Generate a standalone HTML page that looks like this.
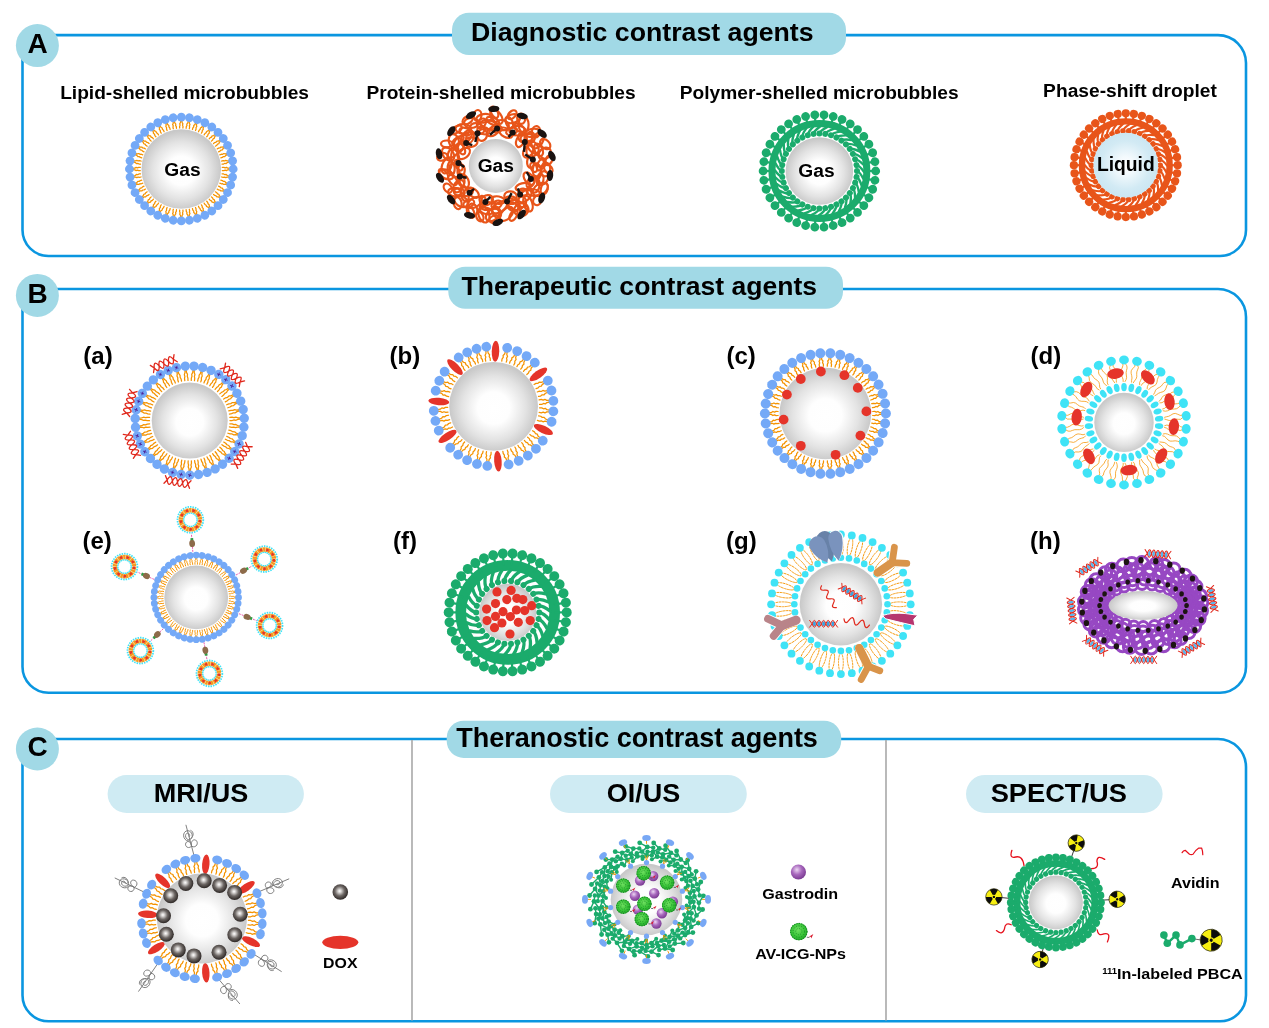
<!DOCTYPE html><html><head><meta charset="utf-8"><title>Ultrasound contrast agents</title><style>html,body{margin:0;padding:0;background:#fff}svg{display:block}</style></head><body><svg width="1269" height="1028" viewBox="0 0 1269 1028" font-family="'Liberation Sans', Arial, sans-serif" font-weight="bold" fill="#000"><defs><radialGradient id="gs" cx="50%" cy="52%" r="50%"><stop offset="0" stop-color="#fff"/><stop offset=".36" stop-color="#fefefe"/><stop offset=".72" stop-color="#e3e3e3"/><stop offset="1" stop-color="#c8c8c8"/></radialGradient>
<radialGradient id="lq" cx="50%" cy="50%" r="50%"><stop offset="0" stop-color="#fff"/><stop offset=".25" stop-color="#f4fafd"/><stop offset=".75" stop-color="#d2eaf4"/><stop offset="1" stop-color="#cbe6f2"/></radialGradient>
<radialGradient id="dk" cx="46%" cy="44%" r="56%"><stop offset="0" stop-color="#fff"/><stop offset=".18" stop-color="#d8d5d3"/><stop offset=".55" stop-color="#6d6764"/><stop offset="1" stop-color="#2c2624"/></radialGradient>
<radialGradient id="pu" cx="40%" cy="35%" r="65%"><stop offset="0" stop-color="#ecd6f3"/><stop offset=".5" stop-color="#a868bd"/><stop offset="1" stop-color="#7b3c93"/></radialGradient>
<radialGradient id="gn" cx="45%" cy="40%" r="62%"><stop offset="0" stop-color="#6fe060"/><stop offset=".65" stop-color="#36c236"/><stop offset="1" stop-color="#27a52c"/></radialGradient><g id="lp1"><path d="M48.3 -0.6L46.5 -0.8L45.2 -1.6L43.9 -1.2L42.6 -1.7L41 -1.6M48.3 0.6L46.5 0.8L45.2 1.6L43.9 1.2L42.6 1.7L41 1.6" fill="none" stroke="#f49300" stroke-width="1.25" stroke-linecap="round" stroke-linejoin="round"/><ellipse cx="51.9" cy="0" rx="4.4" ry="4.4" fill="#74a9f7"/></g><g id="po2"><ellipse cx="56.3" cy="0" rx="4.4" ry="4.4" fill="#1bab6c"/><path d="M56.3 0 L47.5 0" stroke="#1bab6c" stroke-width="2.2"/></g><g id="pi2"><circle cx="37.6" cy="0" r="3" fill="#1bab6c"/><path d="M37.6 0 Q40.7 1.2 43.9 7.7" stroke="#1bab6c" stroke-width="2.4" fill="none" stroke-linecap="round"/></g><g id="po3"><ellipse cx="51.9" cy="0" rx="4.1" ry="4.1" fill="#e8551a"/><path d="M51.9 0 L43.9 0" stroke="#e8551a" stroke-width="2.2"/></g><g id="pi3"><circle cx="34.4" cy="0" r="2.8" fill="#e8551a"/><path d="M34.4 0 Q37.5 1.1 40.6 7.2" stroke="#e8551a" stroke-width="2.2" fill="none" stroke-linecap="round"/></g><g id="lp4"><path d="M50.7 -0.6L48.1 -0.8L46.3 -1.6L44.4 -1.2L42.5 -1.7L40.2 -1.6M50.7 0.6L48.1 0.8L46.3 1.6L44.4 1.2L42.5 1.7L40.2 1.6" fill="none" stroke="#f49300" stroke-width="1.25" stroke-linecap="round" stroke-linejoin="round"/><ellipse cx="54.6" cy="0" rx="4.7" ry="4.7" fill="#74a9f7"/></g><g id="lp5"><path d="M55.9 -0.9L53.4 -1.1L51.7 -2.3L49.9 -1.7L48.1 -2.5L45.9 -2.3M55.9 0.9L53.4 1.1L51.7 2.3L49.9 1.7L48.1 2.5L45.9 2.3" fill="none" stroke="#f49300" stroke-width="1.25" stroke-linecap="round" stroke-linejoin="round"/><ellipse cx="60" cy="0" rx="4.9" ry="4.9" fill="#74a9f7"/></g><g id="lp6"><path d="M56.3 -0.8L54 -0.9L52.5 -2L50.9 -1.4L49.3 -2.1L47.3 -2M56.3 0.8L54 0.9L52.5 2L50.9 1.4L49.3 2.1L47.3 2" fill="none" stroke="#f49300" stroke-width="1.25" stroke-linecap="round" stroke-linejoin="round"/><ellipse cx="60.5" cy="0" rx="5" ry="5" fill="#74a9f7"/></g><g id="lp7"><path d="M39.7 -0.5L38.1 -0.6L36.9 -1.2L35.7 -0.9L34.6 -1.3L33.1 -1.2M39.7 0.5L38.1 0.6L36.9 1.2L35.7 0.9L34.6 1.3L33.1 1.2" fill="none" stroke="#f49300" stroke-width="0.9" stroke-linecap="round" stroke-linejoin="round"/><ellipse cx="42.3" cy="0" rx="3.4" ry="3.4" fill="#74a9f7"/></g><g id="po8"><ellipse cx="59" cy="0" rx="5" ry="5" fill="#1bab6c"/><path d="M59 0 L47 0" stroke="#1bab6c" stroke-width="2.2"/></g><g id="pi8"><circle cx="31.5" cy="0" r="3" fill="#1bab6c"/><path d="M31.5 0 Q36.5 1.1 41.6 7.3" stroke="#1bab6c" stroke-width="3.3" fill="none" stroke-linecap="round"/></g><g id="lp9"><path d="M57.1 -0.9L54.5 -1.1L52.6 -2.3L50.7 -1.7L48.8 -2.4L46.5 -2.3M57.1 0.9L54.5 1.1L52.6 2.3L50.7 1.7L48.8 2.4L46.5 2.3" fill="none" stroke="#f49300" stroke-width="1.25" stroke-linecap="round" stroke-linejoin="round"/><ellipse cx="60.6" cy="0" rx="4.3" ry="5.1" fill="#74a9f7"/></g><g id="po10"><ellipse cx="45.1" cy="0" rx="3.9" ry="3.9" fill="#1bab6c"/><path d="M45.1 0 L39 0" stroke="#1bab6c" stroke-width="2.2"/></g><g id="pi10"><circle cx="30.2" cy="0" r="2.6" fill="#1bab6c"/><path d="M30.2 0 Q32.8 1.1 35.3 7.5" stroke="#1bab6c" stroke-width="1.7" fill="none" stroke-linecap="round"/></g></defs><path d="M22.5 45.1 L22.5 230 A26 26 0 0 0 48.5 256 L1220 256 A26 26 0 0 0 1246 230 L1246 63.1 A28 28 0 0 0 1218 35.1 L32.5 35.1" fill="none" stroke="#0a96e0" stroke-width="2.6"/><path d="M22.5 299 L22.5 666.8 A26 26 0 0 0 48.5 692.8 L1220 692.8 A26 26 0 0 0 1246 666.8 L1246 317 A28 28 0 0 0 1218 289 L32.5 289" fill="none" stroke="#0a96e0" stroke-width="2.6"/><path d="M22.5 749 L22.5 995.3 A26 26 0 0 0 48.5 1021.3 L1220 1021.3 A26 26 0 0 0 1246 995.3 L1246 767 A28 28 0 0 0 1218 739 L32.5 739" fill="none" stroke="#0a96e0" stroke-width="2.6"/><path d="M412 740V1020.5M886 740V1020.5" stroke="#a9a9a9" stroke-width="1.6"/><circle cx="37.4" cy="45.6" r="21.5" fill="#a1d9e6"/><text x="37.5" y="52.9" font-size="28" text-anchor="middle" >A</text><circle cx="37.4" cy="295.4" r="21.5" fill="#a1d9e6"/><text x="37.5" y="302.7" font-size="28" text-anchor="middle" >B</text><circle cx="37.4" cy="749" r="21.5" fill="#a1d9e6"/><text x="37.5" y="756.3" font-size="28" text-anchor="middle" >C</text><rect x="452" y="12.7" width="394" height="42.4" rx="17" fill="#a1d9e6"/><text x="642.3" y="41.3" font-size="26.7" text-anchor="middle" >Diagnostic contrast agents</text><rect x="448.3" y="266.7" width="394.7" height="42" rx="17" fill="#a1d9e6"/><text x="639.3" y="295.2" font-size="26.55" text-anchor="middle" >Therapeutic contrast agents</text><rect x="446.7" y="720.8" width="394.5" height="37.1" rx="17" fill="#a1d9e6"/><text x="637.1" y="746.7" font-size="27" text-anchor="middle" >Theranostic contrast agents</text><rect x="107.6" y="775" width="196.3" height="38" rx="19" fill="#cfebf3"/><text transform="translate(201 801.6) scale(1.045 1)" font-size="25.9" text-anchor="middle">MRI/US</text><rect x="550" y="774.9" width="196.8" height="38.1" rx="19" fill="#cfebf3"/><text transform="translate(643.4 802.3) scale(1.015 1)" font-size="26.6" text-anchor="middle">OI/US</text><rect x="966" y="774.9" width="196.6" height="38.1" rx="19" fill="#cfebf3"/><text transform="translate(1058.8 802.3) scale(1.025 1)" font-size="26.6" text-anchor="middle">SPECT/US</text><text x="184.6" y="99.2" font-size="19.15" text-anchor="middle" >Lipid-shelled microbubbles</text><text x="501" y="99.1" font-size="19.15" text-anchor="middle" >Protein-shelled microbubbles</text><text x="819.2" y="99" font-size="19.15" text-anchor="middle" >Polymer-shelled microbubbles</text><text x="1130" y="97.2" font-size="19.2" text-anchor="middle" >Phase-shift droplet</text><g transform="translate(181.3 169)"><use href="#lp1" transform="rotate(0)"/><use href="#lp1" transform="rotate(9)"/><use href="#lp1" transform="rotate(18)"/><use href="#lp1" transform="rotate(27)"/><use href="#lp1" transform="rotate(36)"/><use href="#lp1" transform="rotate(45)"/><use href="#lp1" transform="rotate(54)"/><use href="#lp1" transform="rotate(63)"/><use href="#lp1" transform="rotate(72)"/><use href="#lp1" transform="rotate(81)"/><use href="#lp1" transform="rotate(90)"/><use href="#lp1" transform="rotate(99)"/><use href="#lp1" transform="rotate(108)"/><use href="#lp1" transform="rotate(117)"/><use href="#lp1" transform="rotate(126)"/><use href="#lp1" transform="rotate(135)"/><use href="#lp1" transform="rotate(144)"/><use href="#lp1" transform="rotate(153)"/><use href="#lp1" transform="rotate(162)"/><use href="#lp1" transform="rotate(171)"/><use href="#lp1" transform="rotate(180)"/><use href="#lp1" transform="rotate(189)"/><use href="#lp1" transform="rotate(198)"/><use href="#lp1" transform="rotate(207)"/><use href="#lp1" transform="rotate(216)"/><use href="#lp1" transform="rotate(225)"/><use href="#lp1" transform="rotate(234)"/><use href="#lp1" transform="rotate(243)"/><use href="#lp1" transform="rotate(252)"/><use href="#lp1" transform="rotate(261)"/><use href="#lp1" transform="rotate(270)"/><use href="#lp1" transform="rotate(279)"/><use href="#lp1" transform="rotate(288)"/><use href="#lp1" transform="rotate(297)"/><use href="#lp1" transform="rotate(306)"/><use href="#lp1" transform="rotate(315)"/><use href="#lp1" transform="rotate(324)"/><use href="#lp1" transform="rotate(333)"/><use href="#lp1" transform="rotate(342)"/><use href="#lp1" transform="rotate(351)"/></g><circle cx="181.3" cy="169" r="39.8" fill="url(#gs)"/><text x="182.5" y="175.5" font-size="19.2" text-anchor="middle" >Gas</text><g transform="translate(495.8 165.9)"><g fill="none" stroke="#e8551a" stroke-width="2.2"><ellipse cx="2.4" cy="34.2" rx="6.7" ry="3.7" transform="rotate(190.6 2.4 34.2)"/><ellipse cx="-8.7" cy="34.1" rx="6" ry="4.8" transform="rotate(160.6 -8.7 34.1)"/><ellipse cx="-22.8" cy="26.8" rx="6.8" ry="3.8" transform="rotate(217.1 -22.8 26.8)"/><ellipse cx="-31.7" cy="15.3" rx="7" ry="4.4" transform="rotate(247.5 -31.7 15.3)"/><ellipse cx="-34.7" cy="4.8" rx="6.1" ry="3.6" transform="rotate(274.9 -34.7 4.8)"/><ellipse cx="-32.1" cy="-12.4" rx="7.2" ry="4.5" transform="rotate(321.7 -32.1 -12.4)"/><ellipse cx="-24.7" cy="-23.8" rx="6.4" ry="4.7" transform="rotate(356.2 -24.7 -23.8)"/><ellipse cx="-13.6" cy="-30.8" rx="5.9" ry="4.8" transform="rotate(285.2 -13.6 -30.8)"/><ellipse cx="-2.9" cy="-34.6" rx="6.5" ry="4.1" transform="rotate(327.3 -2.9 -34.6)"/><ellipse cx="10.1" cy="-33.2" rx="7.3" ry="4.4" transform="rotate(388.8 10.1 -33.2)"/><ellipse cx="24.5" cy="-25.3" rx="6.8" ry="3.8" transform="rotate(472.8 24.5 -25.3)"/><ellipse cx="32.4" cy="-14.4" rx="6.6" ry="4.5" transform="rotate(482.7 32.4 -14.4)"/><ellipse cx="34.9" cy="-4.1" rx="6.1" ry="3.6" transform="rotate(453.7 34.9 -4.1)"/><ellipse cx="33.1" cy="12.7" rx="7.1" ry="4.1" transform="rotate(413.4 33.1 12.7)"/><ellipse cx="26.9" cy="20.9" rx="7.2" ry="3.6" transform="rotate(525.5 26.9 20.9)"/><ellipse cx="14.7" cy="30.2" rx="6.2" ry="4.7" transform="rotate(544.7 14.7 30.2)"/><ellipse cx="42.7" cy="-5.2" rx="6.5" ry="4.7" transform="rotate(416.4 42.7 -5.2)"/><ellipse cx="41.1" cy="5.2" rx="7.7" ry="4.1" transform="rotate(444.4 41.1 5.2)"/><ellipse cx="38.6" cy="18.3" rx="8.5" ry="5.1" transform="rotate(449.3 38.6 18.3)"/><ellipse cx="29.1" cy="30.2" rx="7.8" ry="4.7" transform="rotate(498.9 29.1 30.2)"/><ellipse cx="17.5" cy="38.4" rx="7.5" ry="4.5" transform="rotate(577.2 17.5 38.4)"/><ellipse cx="3.8" cy="41.3" rx="8.6" ry="4.6" transform="rotate(506.9 3.8 41.3)"/><ellipse cx="-8.1" cy="40.2" rx="7.7" ry="3.9" transform="rotate(539.5 -8.1 40.2)"/><ellipse cx="-21.1" cy="36.6" rx="7.8" ry="4.6" transform="rotate(508.4 -21.1 36.6)"/><ellipse cx="-31.2" cy="27.7" rx="8" ry="3.9" transform="rotate(617.4 -31.2 27.7)"/><ellipse cx="-37.2" cy="20.2" rx="6.9" ry="4.5" transform="rotate(666.4 -37.2 20.2)"/><ellipse cx="-41.4" cy="4.5" rx="7.1" ry="4.4" transform="rotate(604.7 -41.4 4.5)"/><ellipse cx="-40.7" cy="-8.5" rx="8.1" ry="3.9" transform="rotate(624.6 -40.7 -8.5)"/><ellipse cx="-36.9" cy="-21" rx="6.9" ry="5" transform="rotate(633 -36.9 -21)"/><ellipse cx="-29.3" cy="-29.2" rx="7.9" ry="4.1" transform="rotate(665.9 -29.3 -29.2)"/><ellipse cx="-18.5" cy="-37.3" rx="7.4" ry="5.1" transform="rotate(740.3 -18.5 -37.3)"/><ellipse cx="-7" cy="-41.1" rx="8.4" ry="4.5" transform="rotate(731.4 -7 -41.1)"/><ellipse cx="6.3" cy="-40.8" rx="6.8" ry="5" transform="rotate(733 6.3 -40.8)"/><ellipse cx="21.8" cy="-35.2" rx="8.2" ry="4.8" transform="rotate(720.7 21.8 -35.2)"/><ellipse cx="31.7" cy="-27.1" rx="7" ry="5" transform="rotate(717.6 31.7 -27.1)"/><ellipse cx="37.2" cy="-18.8" rx="7.3" ry="4.5" transform="rotate(771.6 37.2 -18.8)"/><ellipse cx="41.4" cy="-25.2" rx="8.4" ry="5.5" transform="rotate(480.7 41.4 -25.2)"/><ellipse cx="48.9" cy="-12.3" rx="6.9" ry="5.2" transform="rotate(495.7 48.9 -12.3)"/><ellipse cx="49.7" cy="3.6" rx="7" ry="4.6" transform="rotate(456.8 49.7 3.6)"/><ellipse cx="47.1" cy="12" rx="7" ry="5.2" transform="rotate(476.7 47.1 12)"/><ellipse cx="44.5" cy="23.4" rx="8.5" ry="5.4" transform="rotate(504.9 44.5 23.4)"/><ellipse cx="32.2" cy="37.8" rx="8.1" ry="4.3" transform="rotate(431.5 32.2 37.8)"/><ellipse cx="25" cy="43.1" rx="7.3" ry="5.4" transform="rotate(513.3 25 43.1)"/><ellipse cx="10.8" cy="48" rx="8.3" ry="4.8" transform="rotate(492.7 10.8 48)"/><ellipse cx="-3.2" cy="49.1" rx="7.6" ry="5.3" transform="rotate(501.3 -3.2 49.1)"/><ellipse cx="-11.9" cy="48.6" rx="8.2" ry="5.3" transform="rotate(612.8 -11.9 48.6)"/><ellipse cx="-23" cy="44.1" rx="6.5" ry="4.5" transform="rotate(618.2 -23 44.1)"/><ellipse cx="-34.8" cy="35.3" rx="7.4" ry="5.2" transform="rotate(573.8 -34.8 35.3)"/><ellipse cx="-41" cy="26.2" rx="6.7" ry="4.2" transform="rotate(545.2 -41 26.2)"/><ellipse cx="-49.5" cy="8.5" rx="7.5" ry="4.5" transform="rotate(562.3 -49.5 8.5)"/><ellipse cx="-49.2" cy="0.1" rx="7.7" ry="4.6" transform="rotate(650.5 -49.2 0.1)"/><ellipse cx="-47.7" cy="-11.8" rx="7.6" ry="5.1" transform="rotate(591.3 -47.7 -11.8)"/><ellipse cx="-41.9" cy="-24.7" rx="7.2" ry="5" transform="rotate(615.5 -41.9 -24.7)"/><ellipse cx="-32.5" cy="-37" rx="7.8" ry="4.7" transform="rotate(720.8 -32.5 -37)"/><ellipse cx="-24.4" cy="-43" rx="7.3" ry="5.1" transform="rotate(718.8 -24.4 -43)"/><ellipse cx="-11.8" cy="-47.6" rx="7.9" ry="4.2" transform="rotate(711.1 -11.8 -47.6)"/><ellipse cx="0.7" cy="-49.3" rx="8.5" ry="4.6" transform="rotate(774 0.7 -49.3)"/><ellipse cx="16.8" cy="-47.2" rx="7.4" ry="4.3" transform="rotate(706.3 16.8 -47.2)"/><ellipse cx="27.8" cy="-41.3" rx="8.2" ry="5" transform="rotate(808.2 27.8 -41.3)"/><ellipse cx="37" cy="-33" rx="7.7" ry="4.1" transform="rotate(712.7 37 -33)"/><ellipse cx="26.3" cy="36" rx="5.3" ry="4" transform="rotate(86.7 26.3 36)"/><ellipse cx="17.3" cy="41" rx="5.3" ry="4" transform="rotate(204.9 17.3 41)"/><ellipse cx="0.8" cy="46.2" rx="6.1" ry="3.9" transform="rotate(242.4 0.8 46.2)"/><ellipse cx="-9.5" cy="45" rx="6.4" ry="3.2" transform="rotate(193.5 -9.5 45)"/><ellipse cx="-27" cy="37.7" rx="5.7" ry="3.7" transform="rotate(154.2 -27 37.7)"/><ellipse cx="-36.5" cy="26.3" rx="5.5" ry="3.7" transform="rotate(189.5 -36.5 26.3)"/><ellipse cx="-43" cy="14.2" rx="5.8" ry="3.4" transform="rotate(233.1 -43 14.2)"/><ellipse cx="-44.6" cy="2.3" rx="6.9" ry="3.5" transform="rotate(267.1 -44.6 2.3)"/><ellipse cx="-42.7" cy="-13.6" rx="6.5" ry="3.8" transform="rotate(314.4 -42.7 -13.6)"/><ellipse cx="-37.8" cy="-25.3" rx="6.7" ry="3.2" transform="rotate(323.8 -37.8 -25.3)"/><ellipse cx="-30.5" cy="-34.4" rx="6" ry="3.5" transform="rotate(376.8 -30.5 -34.4)"/><ellipse cx="-14.3" cy="-42.5" rx="5.5" ry="3.7" transform="rotate(308.8 -14.3 -42.5)"/><ellipse cx="-3" cy="-44.9" rx="6.8" ry="3.4" transform="rotate(382.9 -3 -44.9)"/><ellipse cx="13.5" cy="-43.3" rx="6.2" ry="3.3" transform="rotate(426.8 13.5 -43.3)"/><ellipse cx="23.2" cy="-38" rx="5.8" ry="3.2" transform="rotate(388.5 23.2 -38)"/><ellipse cx="34.9" cy="-28.7" rx="5.4" ry="4.1" transform="rotate(448.9 34.9 -28.7)"/><ellipse cx="42.8" cy="-16" rx="6.6" ry="3.9" transform="rotate(425 42.8 -16)"/><ellipse cx="45.4" cy="-1.5" rx="6.6" ry="3.5" transform="rotate(479 45.4 -1.5)"/><ellipse cx="44.3" cy="14" rx="5.5" ry="3.3" transform="rotate(463 44.3 14)"/><ellipse cx="37.4" cy="26.6" rx="6.6" ry="3.3" transform="rotate(549.6 37.4 26.6)"/><ellipse cx="15" cy="34.2" rx="6.1" ry="3.8" transform="rotate(185 15 34.2)"/><ellipse cx="0.8" cy="38.7" rx="5.4" ry="3.6" transform="rotate(152.7 0.8 38.7)"/><ellipse cx="-12.7" cy="35" rx="5.2" ry="3.3" transform="rotate(246.7 -12.7 35)"/><ellipse cx="-27.8" cy="26.4" rx="5.2" ry="3.3" transform="rotate(157.4 -27.8 26.4)"/><ellipse cx="-34.7" cy="13.9" rx="6.3" ry="3.3" transform="rotate(260.1 -34.7 13.9)"/><ellipse cx="-37.2" cy="-0.7" rx="5.8" ry="3" transform="rotate(239.6 -37.2 -0.7)"/><ellipse cx="-34.8" cy="-17.2" rx="6.2" ry="3.3" transform="rotate(239.9 -34.8 -17.2)"/><ellipse cx="-25.8" cy="-28.6" rx="5.8" ry="3.6" transform="rotate(289.3 -25.8 -28.6)"/><ellipse cx="-12.4" cy="-35.4" rx="6.3" ry="3.6" transform="rotate(376.3 -12.4 -35.4)"/><ellipse cx="0.7" cy="-37.2" rx="5.3" ry="3.6" transform="rotate(360.2 0.7 -37.2)"/><ellipse cx="15.9" cy="-34.6" rx="5.7" ry="3.5" transform="rotate(340.2 15.9 -34.6)"/><ellipse cx="26.5" cy="-28.3" rx="4.9" ry="3.8" transform="rotate(424.9 26.5 -28.3)"/><ellipse cx="34.2" cy="-15.7" rx="5.7" ry="3.5" transform="rotate(456.3 34.2 -15.7)"/><ellipse cx="37.9" cy="1.3" rx="5" ry="3" transform="rotate(425.7 37.9 1.3)"/><ellipse cx="34.9" cy="16.3" rx="5.9" ry="3.3" transform="rotate(481 34.9 16.3)"/><ellipse cx="27.2" cy="26.2" rx="4.7" ry="3.4" transform="rotate(546 27.2 26.2)"/><ellipse cx="-1.1" cy="53.2" rx="5.3" ry="3.6" transform="rotate(157.7 -1.1 53.2)"/><ellipse cx="-16" cy="50.7" rx="4.9" ry="3.4" transform="rotate(246.1 -16 50.7)"/><ellipse cx="-25.2" cy="46.3" rx="5.9" ry="3.3" transform="rotate(247.6 -25.2 46.3)"/><ellipse cx="-38.1" cy="37.3" rx="6" ry="3.9" transform="rotate(259.7 -38.1 37.3)"/><ellipse cx="-47.9" cy="22.2" rx="5" ry="3.6" transform="rotate(231 -47.9 22.2)"/><ellipse cx="-52.3" cy="8" rx="6" ry="3.1" transform="rotate(226.4 -52.3 8)"/><ellipse cx="-53.5" cy="-9.1" rx="5.3" ry="3.7" transform="rotate(342.5 -53.5 -9.1)"/><ellipse cx="-49" cy="-22" rx="5.8" ry="3.4" transform="rotate(361 -49 -22)"/><ellipse cx="-39.2" cy="-36.3" rx="5.9" ry="3.1" transform="rotate(327 -39.2 -36.3)"/><ellipse cx="-28.2" cy="-45.9" rx="5.5" ry="3.6" transform="rotate(327.3 -28.2 -45.9)"/><ellipse cx="-18.2" cy="-50.4" rx="5.5" ry="3.8" transform="rotate(275.4 -18.2 -50.4)"/><ellipse cx="-1.4" cy="-53.6" rx="6.1" ry="3.2" transform="rotate(422.8 -1.4 -53.6)"/><ellipse cx="16.3" cy="-51.2" rx="5.3" ry="3.3" transform="rotate(314.8 16.3 -51.2)"/><ellipse cx="25.4" cy="-47.2" rx="5.2" ry="4" transform="rotate(448.5 25.4 -47.2)"/><ellipse cx="40.2" cy="-34.2" rx="5.7" ry="4.1" transform="rotate(459.8 40.2 -34.2)"/><ellipse cx="49.4" cy="-21.8" rx="6" ry="4.1" transform="rotate(404.3 49.4 -21.8)"/><ellipse cx="53.1" cy="-5.9" rx="5.5" ry="3.2" transform="rotate(479.7 53.1 -5.9)"/><ellipse cx="52.6" cy="3.2" rx="4.9" ry="3.6" transform="rotate(411.6 52.6 3.2)"/><ellipse cx="48.5" cy="22.8" rx="5.7" ry="3.4" transform="rotate(464.2 48.5 22.8)"/><ellipse cx="41.6" cy="34.4" rx="5" ry="4" transform="rotate(475.8 41.6 34.4)"/><ellipse cx="28.2" cy="45.2" rx="5.5" ry="3.7" transform="rotate(490 28.2 45.2)"/><ellipse cx="17.6" cy="49.5" rx="6" ry="3.2" transform="rotate(479.7 17.6 49.5)"/></g><ellipse cx="-2" cy="-57" rx="5.6" ry="3.2" fill="#1a1311" transform="rotate(-4 -2 -57)"/><ellipse cx="26.5" cy="-49.9" rx="5.6" ry="3.2" fill="#1a1311" transform="rotate(12.8 26.5 -49.9)"/><ellipse cx="46.3" cy="-32.4" rx="5.6" ry="3.2" fill="#1a1311" transform="rotate(40.5 46.3 -32.4)"/><ellipse cx="56.1" cy="-9.9" rx="5.6" ry="3.2" fill="#1a1311" transform="rotate(63.5 56.1 -9.9)"/><ellipse cx="54.2" cy="9.6" rx="5.6" ry="3.2" fill="#1a1311" transform="rotate(95.2 54.2 9.6)"/><ellipse cx="45.9" cy="32.1" rx="5.6" ry="3.2" fill="#1a1311" transform="rotate(108.4 45.9 32.1)"/><ellipse cx="25.8" cy="48.6" rx="5.6" ry="3.2" fill="#1a1311" transform="rotate(128.4 25.8 48.6)"/><ellipse cx="2" cy="56.5" rx="5.6" ry="3.2" fill="#1a1311" transform="rotate(158.5 2 56.5)"/><ellipse cx="-26.3" cy="49.4" rx="5.6" ry="3.2" fill="#1a1311" transform="rotate(191.4 -26.3 49.4)"/><ellipse cx="-44.7" cy="33.7" rx="5.6" ry="3.2" fill="#1a1311" transform="rotate(232.5 -44.7 33.7)"/><ellipse cx="-55.8" cy="11.9" rx="5.6" ry="3.2" fill="#1a1311" transform="rotate(236 -55.8 11.9)"/><ellipse cx="-56.7" cy="-12.1" rx="5.6" ry="3.2" fill="#1a1311" transform="rotate(258.1 -56.7 -12.1)"/><ellipse cx="-44.5" cy="-34.8" rx="5.6" ry="3.2" fill="#1a1311" transform="rotate(305.4 -44.5 -34.8)"/><ellipse cx="-24.8" cy="-50.8" rx="5.6" ry="3.2" fill="#1a1311" transform="rotate(329.4 -24.8 -50.8)"/><circle cx="1.3" cy="-37.5" r="3" fill="#1a1311"/><path d="M1.3 -37.5L-5.8 -31" stroke="#1a1311" stroke-width="2.4"/><circle cx="16.9" cy="-33.5" r="3" fill="#1a1311"/><path d="M16.9 -33.5L12.7 -28.8" stroke="#1a1311" stroke-width="2.4"/><circle cx="29" cy="-23.8" r="3" fill="#1a1311"/><path d="M29 -23.8L28.2 -14" stroke="#1a1311" stroke-width="2.4"/><circle cx="37" cy="-6.3" r="3" fill="#1a1311"/><path d="M37 -6.3L29.4 -11.3" stroke="#1a1311" stroke-width="2.4"/><circle cx="35.1" cy="13.1" r="3" fill="#1a1311"/><path d="M35.1 13.1L30.9 6.1" stroke="#1a1311" stroke-width="2.4"/><circle cx="24.3" cy="28.6" r="3" fill="#1a1311"/><path d="M24.3 28.6L22.1 22.4" stroke="#1a1311" stroke-width="2.4"/><circle cx="11.3" cy="35.7" r="3" fill="#1a1311"/><path d="M11.3 35.7L15.8 27.2" stroke="#1a1311" stroke-width="2.4"/><circle cx="-10.4" cy="36" r="3" fill="#1a1311"/><path d="M-10.4 36L-5.4 31" stroke="#1a1311" stroke-width="2.4"/><circle cx="-26.2" cy="26.8" r="3" fill="#1a1311"/><path d="M-26.2 26.8L-21.7 22.9" stroke="#1a1311" stroke-width="2.4"/><circle cx="-36" cy="10.6" r="3" fill="#1a1311"/><path d="M-36 10.6L-29.2 11.8" stroke="#1a1311" stroke-width="2.4"/><circle cx="-37.4" cy="-2.9" r="3" fill="#1a1311"/><path d="M-37.4 -2.9L-31.5 1.2" stroke="#1a1311" stroke-width="2.4"/><circle cx="-29.6" cy="-23" r="3" fill="#1a1311"/><path d="M-29.6 -23L-23.6 -20.8" stroke="#1a1311" stroke-width="2.4"/><circle cx="-18.3" cy="-32.7" r="3" fill="#1a1311"/><path d="M-18.3 -32.7L-20.5 -23.9" stroke="#1a1311" stroke-width="2.4"/></g><circle cx="495.8" cy="165.9" r="27" fill="url(#gs)"/><text x="495.8" y="172.2" font-size="19.2" text-anchor="middle" >Gas</text><g transform="translate(819.4 171)"><circle r="47.5" fill="none" stroke="#1bab6c" stroke-width="6.9"/><use href="#po2" transform="rotate(0)"/><use href="#po2" transform="rotate(9.5)"/><use href="#po2" transform="rotate(18.9)"/><use href="#po2" transform="rotate(28.4)"/><use href="#po2" transform="rotate(37.9)"/><use href="#po2" transform="rotate(47.4)"/><use href="#po2" transform="rotate(56.8)"/><use href="#po2" transform="rotate(66.3)"/><use href="#po2" transform="rotate(75.8)"/><use href="#po2" transform="rotate(85.3)"/><use href="#po2" transform="rotate(94.7)"/><use href="#po2" transform="rotate(104.2)"/><use href="#po2" transform="rotate(113.7)"/><use href="#po2" transform="rotate(123.2)"/><use href="#po2" transform="rotate(132.6)"/><use href="#po2" transform="rotate(142.1)"/><use href="#po2" transform="rotate(151.6)"/><use href="#po2" transform="rotate(161.1)"/><use href="#po2" transform="rotate(170.5)"/><use href="#po2" transform="rotate(180)"/><use href="#po2" transform="rotate(189.5)"/><use href="#po2" transform="rotate(198.9)"/><use href="#po2" transform="rotate(208.4)"/><use href="#po2" transform="rotate(217.9)"/><use href="#po2" transform="rotate(227.4)"/><use href="#po2" transform="rotate(236.8)"/><use href="#po2" transform="rotate(246.3)"/><use href="#po2" transform="rotate(255.8)"/><use href="#po2" transform="rotate(265.3)"/><use href="#po2" transform="rotate(274.7)"/><use href="#po2" transform="rotate(284.2)"/><use href="#po2" transform="rotate(293.7)"/><use href="#po2" transform="rotate(303.2)"/><use href="#po2" transform="rotate(312.6)"/><use href="#po2" transform="rotate(322.1)"/><use href="#po2" transform="rotate(331.6)"/><use href="#po2" transform="rotate(341.1)"/><use href="#po2" transform="rotate(350.5)"/><use href="#pi2" transform="rotate(0)"/><use href="#pi2" transform="rotate(9)"/><use href="#pi2" transform="rotate(18)"/><use href="#pi2" transform="rotate(27)"/><use href="#pi2" transform="rotate(36)"/><use href="#pi2" transform="rotate(45)"/><use href="#pi2" transform="rotate(54)"/><use href="#pi2" transform="rotate(63)"/><use href="#pi2" transform="rotate(72)"/><use href="#pi2" transform="rotate(81)"/><use href="#pi2" transform="rotate(90)"/><use href="#pi2" transform="rotate(99)"/><use href="#pi2" transform="rotate(108)"/><use href="#pi2" transform="rotate(117)"/><use href="#pi2" transform="rotate(126)"/><use href="#pi2" transform="rotate(135)"/><use href="#pi2" transform="rotate(144)"/><use href="#pi2" transform="rotate(153)"/><use href="#pi2" transform="rotate(162)"/><use href="#pi2" transform="rotate(171)"/><use href="#pi2" transform="rotate(180)"/><use href="#pi2" transform="rotate(189)"/><use href="#pi2" transform="rotate(198)"/><use href="#pi2" transform="rotate(207)"/><use href="#pi2" transform="rotate(216)"/><use href="#pi2" transform="rotate(225)"/><use href="#pi2" transform="rotate(234)"/><use href="#pi2" transform="rotate(243)"/><use href="#pi2" transform="rotate(252)"/><use href="#pi2" transform="rotate(261)"/><use href="#pi2" transform="rotate(270)"/><use href="#pi2" transform="rotate(279)"/><use href="#pi2" transform="rotate(288)"/><use href="#pi2" transform="rotate(297)"/><use href="#pi2" transform="rotate(306)"/><use href="#pi2" transform="rotate(315)"/><use href="#pi2" transform="rotate(324)"/><use href="#pi2" transform="rotate(333)"/><use href="#pi2" transform="rotate(342)"/><use href="#pi2" transform="rotate(351)"/></g><circle cx="819.4" cy="171" r="33.8" fill="url(#gs)"/><text x="816.5" y="177" font-size="19.2" text-anchor="middle" >Gas</text><g transform="translate(1125.8 165.2)"><circle r="43.9" fill="none" stroke="#e8551a" stroke-width="6.3"/><use href="#po3" transform="rotate(0)"/><use href="#po3" transform="rotate(9)"/><use href="#po3" transform="rotate(18)"/><use href="#po3" transform="rotate(27)"/><use href="#po3" transform="rotate(36)"/><use href="#po3" transform="rotate(45)"/><use href="#po3" transform="rotate(54)"/><use href="#po3" transform="rotate(63)"/><use href="#po3" transform="rotate(72)"/><use href="#po3" transform="rotate(81)"/><use href="#po3" transform="rotate(90)"/><use href="#po3" transform="rotate(99)"/><use href="#po3" transform="rotate(108)"/><use href="#po3" transform="rotate(117)"/><use href="#po3" transform="rotate(126)"/><use href="#po3" transform="rotate(135)"/><use href="#po3" transform="rotate(144)"/><use href="#po3" transform="rotate(153)"/><use href="#po3" transform="rotate(162)"/><use href="#po3" transform="rotate(171)"/><use href="#po3" transform="rotate(180)"/><use href="#po3" transform="rotate(189)"/><use href="#po3" transform="rotate(198)"/><use href="#po3" transform="rotate(207)"/><use href="#po3" transform="rotate(216)"/><use href="#po3" transform="rotate(225)"/><use href="#po3" transform="rotate(234)"/><use href="#po3" transform="rotate(243)"/><use href="#po3" transform="rotate(252)"/><use href="#po3" transform="rotate(261)"/><use href="#po3" transform="rotate(270)"/><use href="#po3" transform="rotate(279)"/><use href="#po3" transform="rotate(288)"/><use href="#po3" transform="rotate(297)"/><use href="#po3" transform="rotate(306)"/><use href="#po3" transform="rotate(315)"/><use href="#po3" transform="rotate(324)"/><use href="#po3" transform="rotate(333)"/><use href="#po3" transform="rotate(342)"/><use href="#po3" transform="rotate(351)"/><use href="#pi3" transform="rotate(0)"/><use href="#pi3" transform="rotate(9.5)"/><use href="#pi3" transform="rotate(18.9)"/><use href="#pi3" transform="rotate(28.4)"/><use href="#pi3" transform="rotate(37.9)"/><use href="#pi3" transform="rotate(47.4)"/><use href="#pi3" transform="rotate(56.8)"/><use href="#pi3" transform="rotate(66.3)"/><use href="#pi3" transform="rotate(75.8)"/><use href="#pi3" transform="rotate(85.3)"/><use href="#pi3" transform="rotate(94.7)"/><use href="#pi3" transform="rotate(104.2)"/><use href="#pi3" transform="rotate(113.7)"/><use href="#pi3" transform="rotate(123.2)"/><use href="#pi3" transform="rotate(132.6)"/><use href="#pi3" transform="rotate(142.1)"/><use href="#pi3" transform="rotate(151.6)"/><use href="#pi3" transform="rotate(161.1)"/><use href="#pi3" transform="rotate(170.5)"/><use href="#pi3" transform="rotate(180)"/><use href="#pi3" transform="rotate(189.5)"/><use href="#pi3" transform="rotate(198.9)"/><use href="#pi3" transform="rotate(208.4)"/><use href="#pi3" transform="rotate(217.9)"/><use href="#pi3" transform="rotate(227.4)"/><use href="#pi3" transform="rotate(236.8)"/><use href="#pi3" transform="rotate(246.3)"/><use href="#pi3" transform="rotate(255.8)"/><use href="#pi3" transform="rotate(265.3)"/><use href="#pi3" transform="rotate(274.7)"/><use href="#pi3" transform="rotate(284.2)"/><use href="#pi3" transform="rotate(293.7)"/><use href="#pi3" transform="rotate(303.2)"/><use href="#pi3" transform="rotate(312.6)"/><use href="#pi3" transform="rotate(322.1)"/><use href="#pi3" transform="rotate(331.6)"/><use href="#pi3" transform="rotate(341.1)"/><use href="#pi3" transform="rotate(350.5)"/></g><circle cx="1125.8" cy="165.2" r="32.4" fill="url(#lq)"/><text x="1125.8" y="171" font-size="19.3" text-anchor="middle" >Liquid</text><text x="83.3" y="364" font-size="24" text-anchor="start" >(a)</text><text x="389.5" y="364" font-size="24" text-anchor="start" >(b)</text><text x="726.5" y="364" font-size="24" text-anchor="start" >(c)</text><text x="1030.5" y="364" font-size="24" text-anchor="start" >(d)</text><text x="82.5" y="548.5" font-size="24" text-anchor="start" >(e)</text><text x="393" y="548.5" font-size="24" text-anchor="start" >(f)</text><text x="726" y="548.5" font-size="24" text-anchor="start" >(g)</text><text x="1030" y="548.5" font-size="24" text-anchor="start" >(h)</text><g transform="translate(189.7 420.6)"><use href="#lp4" transform="rotate(-85.5)"/><use href="#lp4" transform="rotate(-76.3)"/><use href="#lp4" transform="rotate(-67)"/><use href="#lp4" transform="rotate(-57.8)"/><use href="#lp4" transform="rotate(-48.6)"/><use href="#lp4" transform="rotate(-39.3)"/><use href="#lp4" transform="rotate(-30.1)"/><use href="#lp4" transform="rotate(-20.9)"/><use href="#lp4" transform="rotate(-11.7)"/><use href="#lp4" transform="rotate(-2.4)"/><use href="#lp4" transform="rotate(6.8)"/><use href="#lp4" transform="rotate(16)"/><use href="#lp4" transform="rotate(25.3)"/><use href="#lp4" transform="rotate(34.5)"/><use href="#lp4" transform="rotate(43.7)"/><use href="#lp4" transform="rotate(53)"/><use href="#lp4" transform="rotate(62.2)"/><use href="#lp4" transform="rotate(71.4)"/><use href="#lp4" transform="rotate(80.7)"/><use href="#lp4" transform="rotate(89.9)"/><use href="#lp4" transform="rotate(99.1)"/><use href="#lp4" transform="rotate(108.3)"/><use href="#lp4" transform="rotate(117.6)"/><use href="#lp4" transform="rotate(126.8)"/><use href="#lp4" transform="rotate(136)"/><use href="#lp4" transform="rotate(145.3)"/><use href="#lp4" transform="rotate(154.5)"/><use href="#lp4" transform="rotate(163.7)"/><use href="#lp4" transform="rotate(173)"/><use href="#lp4" transform="rotate(182.2)"/><use href="#lp4" transform="rotate(191.4)"/><use href="#lp4" transform="rotate(200.7)"/><use href="#lp4" transform="rotate(209.9)"/><use href="#lp4" transform="rotate(219.1)"/><use href="#lp4" transform="rotate(228.3)"/><use href="#lp4" transform="rotate(237.6)"/><use href="#lp4" transform="rotate(246.8)"/><use href="#lp4" transform="rotate(256)"/><use href="#lp4" transform="rotate(265.3)"/></g><circle cx="189.7" cy="420.6" r="38" fill="url(#gs)"/><g transform="translate(189.7 420.6)"><path d="M-23.3 -50.8L-19.7 -49.6M-20.9 -52L-22.1 -48.4" stroke="#4b1f95" stroke-width="0.9"/><path d="M-31.1 -46.7L-27.5 -45.5M-28.7 -47.9L-29.9 -44.3" stroke="#4b1f95" stroke-width="0.9"/><path d="M-15 -53.6L-11.4 -52.4M-12.6 -54.8L-13.8 -51.2" stroke="#4b1f95" stroke-width="0.9"/><g transform="translate(-25.9 -57) rotate(-24.4)"><path d="M-13 -3.9 L-10.5 0 Q-7.9 -7.8 -5.2 0 Q-2.6 7.8 0 0 Q2.6 -7.8 5.2 0 Q7.9 7.8 10.5 0 L13 3.9M-13 3.9 L-10.5 0 Q-7.9 7.8 -5.2 0 Q-2.6 -7.8 0 0 Q2.6 7.8 5.2 0 Q7.9 -7.8 10.5 0 L13 -3.9" fill="none" stroke="#e0281c" stroke-width="1.3" stroke-linecap="round"/></g><path d="M34.3 -41.5L37.9 -40.3M36.7 -42.7L35.5 -39.1" stroke="#4b1f95" stroke-width="0.9"/><path d="M40.4 -35.2L44 -34M42.8 -36.4L41.6 -32.8" stroke="#4b1f95" stroke-width="0.9"/><path d="M27.3 -46.8L30.9 -45.6M29.7 -48L28.5 -44.4" stroke="#4b1f95" stroke-width="0.9"/><g transform="translate(42.7 -45.8) rotate(43)"><path d="M-13 -3.9 L-10.5 0 Q-7.9 -7.8 -5.2 0 Q-2.6 7.8 0 0 Q2.6 -7.8 5.2 0 Q7.9 7.8 10.5 0 L13 3.9M-13 3.9 L-10.5 0 Q-7.9 7.8 -5.2 0 Q-2.6 -7.8 0 0 Q2.6 7.8 5.2 0 Q7.9 -7.8 10.5 0 L13 -3.9" fill="none" stroke="#e0281c" stroke-width="1.3" stroke-linecap="round"/></g><path d="M-52.9 -19.9L-49.3 -18.7M-50.5 -21.1L-51.7 -17.5" stroke="#4b1f95" stroke-width="0.9"/><path d="M-55.3 -11.4L-51.7 -10.2M-52.9 -12.6L-54.1 -9" stroke="#4b1f95" stroke-width="0.9"/><path d="M-49.1 -27.8L-45.5 -26.6M-46.7 -29L-47.9 -25.4" stroke="#4b1f95" stroke-width="0.9"/><g transform="translate(-60.1 -17.7) rotate(-73.6)"><path d="M-13 -3.9 L-10.5 0 Q-7.9 -7.8 -5.2 0 Q-2.6 7.8 0 0 Q2.6 -7.8 5.2 0 Q7.9 7.8 10.5 0 L13 3.9M-13 3.9 L-10.5 0 Q-7.9 7.8 -5.2 0 Q-2.6 -7.8 0 0 Q2.6 7.8 5.2 0 Q7.9 -7.8 10.5 0 L13 -3.9" fill="none" stroke="#e0281c" stroke-width="1.3" stroke-linecap="round"/></g><path d="M-51.1 22.9L-47.5 24.1M-48.7 21.7L-49.9 25.3" stroke="#4b1f95" stroke-width="0.9"/><path d="M-54.2 14.7L-50.6 15.9M-51.8 13.5L-53 17.1" stroke="#4b1f95" stroke-width="0.9"/><path d="M-46.7 30.5L-43.1 31.7M-44.3 29.3L-45.5 32.9" stroke="#4b1f95" stroke-width="0.9"/><g transform="translate(-57.8 24.2) rotate(247.3)"><path d="M-13 -3.9 L-10.5 0 Q-7.9 -7.8 -5.2 0 Q-2.6 7.8 0 0 Q2.6 -7.8 5.2 0 Q7.9 7.8 10.5 0 L13 3.9M-13 3.9 L-10.5 0 Q-7.9 7.8 -5.2 0 Q-2.6 -7.8 0 0 Q2.6 7.8 5.2 0 Q7.9 -7.8 10.5 0 L13 -3.9" fill="none" stroke="#e0281c" stroke-width="1.3" stroke-linecap="round"/></g><path d="M-10.4 53.3L-6.8 54.5M-8 52.1L-9.2 55.7" stroke="#4b1f95" stroke-width="0.9"/><path d="M-19 51.2L-15.4 52.4M-16.6 50L-17.8 53.6" stroke="#4b1f95" stroke-width="0.9"/><path d="M-1.7 54L1.9 55.2M0.7 52.8L-0.5 56.4" stroke="#4b1f95" stroke-width="0.9"/><g transform="translate(-12.2 61.4) rotate(191.2)"><path d="M-13 -3.9 L-10.5 0 Q-7.9 -7.8 -5.2 0 Q-2.6 7.8 0 0 Q2.6 -7.8 5.2 0 Q7.9 7.8 10.5 0 L13 3.9M-13 3.9 L-10.5 0 Q-7.9 7.8 -5.2 0 Q-2.6 -7.8 0 0 Q2.6 7.8 5.2 0 Q7.9 -7.8 10.5 0 L13 -3.9" fill="none" stroke="#e0281c" stroke-width="1.3" stroke-linecap="round"/></g><path d="M43.2 30.3L46.8 31.5M45.6 29.1L44.4 32.7" stroke="#4b1f95" stroke-width="0.9"/><path d="M47.6 22.7L51.2 23.9M50 21.5L48.8 25.1" stroke="#4b1f95" stroke-width="0.9"/><path d="M37.7 37.1L41.3 38.3M40.1 35.9L38.9 39.5" stroke="#4b1f95" stroke-width="0.9"/><g transform="translate(52 34.8) rotate(123.8)"><path d="M-13 -3.9 L-10.5 0 Q-7.9 -7.8 -5.2 0 Q-2.6 7.8 0 0 Q2.6 -7.8 5.2 0 Q7.9 7.8 10.5 0 L13 3.9M-13 3.9 L-10.5 0 Q-7.9 7.8 -5.2 0 Q-2.6 -7.8 0 0 Q2.6 7.8 5.2 0 Q7.9 -7.8 10.5 0 L13 -3.9" fill="none" stroke="#e0281c" stroke-width="1.3" stroke-linecap="round"/></g></g><g transform="translate(493.6 406.3)"><use href="#lp5" transform="rotate(-125.6)"/><use href="#lp5" transform="rotate(-116.1)"/><use href="#lp5" transform="rotate(-106.5)"/><use href="#lp5" transform="rotate(-97)"/><use href="#lp5" transform="rotate(-76.9)"/><use href="#lp5" transform="rotate(-66.8)"/><use href="#lp5" transform="rotate(-56.7)"/><use href="#lp5" transform="rotate(-46.6)"/><use href="#lp5" transform="rotate(-25.4)"/><use href="#lp5" transform="rotate(-15.3)"/><use href="#lp5" transform="rotate(-5.2)"/><use href="#lp5" transform="rotate(4.8)"/><use href="#lp5" transform="rotate(14.9)"/><use href="#lp5" transform="rotate(35)"/><use href="#lp5" transform="rotate(45.1)"/><use href="#lp5" transform="rotate(55.2)"/><use href="#lp5" transform="rotate(65.3)"/><use href="#lp5" transform="rotate(75.5)"/><use href="#lp5" transform="rotate(96)"/><use href="#lp5" transform="rotate(106.1)"/><use href="#lp5" transform="rotate(116.2)"/><use href="#lp5" transform="rotate(126.2)"/><use href="#lp5" transform="rotate(136.3)"/><use href="#lp5" transform="rotate(156.1)"/><use href="#lp5" transform="rotate(165.9)"/><use href="#lp5" transform="rotate(175.7)"/><use href="#lp5" transform="rotate(195.1)"/><use href="#lp5" transform="rotate(205.2)"/><use href="#lp5" transform="rotate(215.3)"/><ellipse cx="-38.6" cy="-39.2" rx="10.5" ry="3.75" fill="#e5342a" transform="rotate(-134.6 -38.6 -39.2)"/><ellipse cx="1.9" cy="-55" rx="10.5" ry="3.75" fill="#e5342a" transform="rotate(-88 1.9 -55)"/><ellipse cx="44.8" cy="-31.9" rx="10.5" ry="3.75" fill="#e5342a" transform="rotate(-35.5 44.8 -31.9)"/><ellipse cx="49.8" cy="23.2" rx="10.5" ry="3.75" fill="#e5342a" transform="rotate(25 49.8 23.2)"/><ellipse cx="4.3" cy="54.8" rx="10.5" ry="3.75" fill="#e5342a" transform="rotate(85.5 4.3 54.8)"/><ellipse cx="-46" cy="30.1" rx="10.5" ry="3.75" fill="#e5342a" transform="rotate(146.8 -46 30.1)"/><ellipse cx="-54.8" cy="-4.8" rx="10.5" ry="3.75" fill="#e5342a" transform="rotate(185 -54.8 -4.8)"/></g><circle cx="493.6" cy="406.3" r="44.4" fill="url(#gs)"/><g transform="translate(825.4 413.5)"><use href="#lp6" transform="rotate(-85.3)"/><use href="#lp6" transform="rotate(-75.8)"/><use href="#lp6" transform="rotate(-66.4)"/><use href="#lp6" transform="rotate(-56.9)"/><use href="#lp6" transform="rotate(-47.4)"/><use href="#lp6" transform="rotate(-37.9)"/><use href="#lp6" transform="rotate(-28.5)"/><use href="#lp6" transform="rotate(-19)"/><use href="#lp6" transform="rotate(-9.5)"/><use href="#lp6" transform="rotate(0)"/><use href="#lp6" transform="rotate(9.4)"/><use href="#lp6" transform="rotate(18.9)"/><use href="#lp6" transform="rotate(28.4)"/><use href="#lp6" transform="rotate(37.9)"/><use href="#lp6" transform="rotate(47.3)"/><use href="#lp6" transform="rotate(56.8)"/><use href="#lp6" transform="rotate(66.3)"/><use href="#lp6" transform="rotate(75.8)"/><use href="#lp6" transform="rotate(85.2)"/><use href="#lp6" transform="rotate(94.7)"/><use href="#lp6" transform="rotate(104.2)"/><use href="#lp6" transform="rotate(113.6)"/><use href="#lp6" transform="rotate(123.1)"/><use href="#lp6" transform="rotate(132.6)"/><use href="#lp6" transform="rotate(142.1)"/><use href="#lp6" transform="rotate(151.5)"/><use href="#lp6" transform="rotate(161)"/><use href="#lp6" transform="rotate(170.5)"/><use href="#lp6" transform="rotate(180)"/><use href="#lp6" transform="rotate(189.4)"/><use href="#lp6" transform="rotate(198.9)"/><use href="#lp6" transform="rotate(208.4)"/><use href="#lp6" transform="rotate(217.9)"/><use href="#lp6" transform="rotate(227.3)"/><use href="#lp6" transform="rotate(236.8)"/><use href="#lp6" transform="rotate(246.3)"/><use href="#lp6" transform="rotate(255.8)"/><use href="#lp6" transform="rotate(265.2)"/></g><circle cx="825.4" cy="413.5" r="45.8" fill="url(#gs)"/><circle cx="820.9" cy="371.5" r="4.9" fill="#e5342a"/><circle cx="844.4" cy="375.2" r="4.9" fill="#e5342a"/><circle cx="857.8" cy="387.9" r="4.9" fill="#e5342a"/><circle cx="866.4" cy="411.4" r="4.9" fill="#e5342a"/><circle cx="860.4" cy="435.6" r="4.9" fill="#e5342a"/><circle cx="835.6" cy="454.8" r="4.9" fill="#e5342a"/><circle cx="800.8" cy="445.8" r="4.9" fill="#e5342a"/><circle cx="783.6" cy="419.6" r="4.9" fill="#e5342a"/><circle cx="786.9" cy="394.6" r="4.9" fill="#e5342a"/><circle cx="800.8" cy="379" r="4.9" fill="#e5342a"/><g transform="translate(1124 422.4)"><path d="M-1.2 -59L-1.1 -56.7L-1.9 -54.3L-3.2 -52L-3.6 -49.6L-2.9 -47.3L-1.6 -45.1L-0.9 -42.8L-0.8 -40.5M1.2 -59L2.8 -56.6L3.1 -54.3L2.5 -52L2.1 -49.7L2.3 -47.4L2.6 -45L2.1 -42.8L0.8 -40.5M11.1 -57.9L10.6 -55.7L8.6 -53.7L7.2 -51.6L7.1 -49.2L7.7 -46.8L8 -44.4L7.6 -42.1L7.6 -39.8M13.4 -57.5L14.4 -54.8L13.6 -52.6L12.8 -50.5L12.7 -48.1L12.8 -45.7L12.1 -43.5L10.5 -41.5L9.2 -39.4M22.9 -54.4L21.2 -52.6L19 -50.9L18 -48.8L17.9 -46.4L17.6 -44.1L16.6 -41.9L15.6 -39.9L15.7 -37.3M25.1 -53.4L24.8 -51L23.7 -48.9L23.2 -46.6L23.1 -44.1L22.3 -41.9L20.5 -40.2L18.3 -38.7L17.2 -36.7M33.7 -48.4L31.1 -47.4L29.3 -45.8L28.4 -43.6L27.5 -41.4L26.1 -39.6L24.4 -37.9L23.4 -35.8L23.1 -33.2M35.6 -47L34.3 -45.2L33.4 -42.9L33 -40.3L32.1 -38L30.2 -36.6L27.9 -35.5L25.8 -34.1L24.5 -32.3M43 -40.4L40.2 -39.9L38.7 -38.2L37.3 -36.3L35.4 -35L33.2 -33.9L31.6 -32.2L30.7 -29.9L29.5 -27.7M44.6 -38.6L42.9 -37.1L42.1 -34.4L41 -32.1L39.1 -30.7L36.7 -30L34.5 -29.1L32.6 -27.7L30.6 -26.5M50.5 -30.5L48 -30.1L46.2 -28.7L43.9 -27.9L41.5 -27.5L39.3 -26.5L37.8 -24.6L36.5 -22.3L34.7 -21M51.7 -28.5L50 -26.7L48.6 -24.3L46.7 -23L44.3 -22.6L42 -22.1L39.9 -21L38 -19.7L35.5 -19.5M55.7 -19.4L53.5 -18.7L51.1 -18.5L48.5 -18.9L46.1 -18.8L44.1 -17.5L42.3 -15.6L40.5 -14L38.3 -13.3M56.5 -17.1L54.7 -15L52.6 -13.7L50.3 -13.4L47.9 -13.3L45.7 -12.6L43.6 -11.6L41.3 -11.2L38.8 -11.7M58.5 -7.3L56.3 -7L53.8 -8.1L51.3 -9L49 -8.6L46.9 -7.3L44.7 -6.1L42.4 -5.6L40.2 -5M58.8 -5L56.6 -3.1L54.3 -3.1L52 -3.3L49.7 -2.9L47.4 -2.1L45.1 -1.9L42.7 -2.7L40.4 -3.4M58.8 5L56.5 4.2L54.3 2.5L52 1.9L49.7 2.5L47.3 3.1L45 3L42.7 2.7L40.4 3.4M58.5 7.3L56.1 8.1L53.9 7.5L51.5 7.6L49.1 8.2L46.7 8.2L44.5 7.2L42.4 5.6L40.2 5M56.5 17.1L54.6 15.1L52.6 13.6L50.3 13.3L47.9 13.3L45.7 12.7L43.6 11.7L41.3 11.2L38.8 11.7M55.7 19.4L53.5 18.8L51.2 18.4L48.6 18.7L46.1 18.7L44 17.6L42.3 15.7L40.5 14L38.3 13.3M51.7 28.5L50.4 25.9L48.4 24.8L46.1 24.1L44.1 22.9L42.4 21.3L40.4 20.1L38 19.8L35.5 19.5M50.5 30.5L48.5 29.3L45.9 29.2L43.2 29L41.2 27.9L39.8 25.8L38.4 23.8L36.5 22.3L34.7 21M44.6 38.6L43.6 36.2L41.7 34.9L40.1 33.3L38.8 31.1L37.4 29.2L35.2 28.2L32.6 27.7L30.6 26.5M43 40.4L41 39.1L38.2 38.7L36.2 37.4L35 35.4L33.9 33.1L32.4 31.4L30.6 29.9L29.5 27.7M35.6 47L34.5 45L33.3 43L32.8 40.5L32 38.1L30.4 36.4L28.1 35.3L25.8 34.2L24.5 32.3M33.7 48.4L31.3 47.3L29.2 45.9L28.1 43.8L27.4 41.5L26.3 39.5L24.7 37.8L23.4 35.8L23.1 33.2M25.1 53.4L24 51.3L24.1 48.7L24.3 46.1L23.4 43.9L21.6 42.2L19.7 40.6L18.3 38.7L17.2 36.7M22.9 54.4L20.4 52.9L19.5 50.8L19.1 48.4L18.2 46.3L16.9 44.3L15.8 42.3L15.6 39.9L15.7 37.3M13.4 57.5L13.3 55.1L14.3 52.5L14.4 50L13.2 48L11.8 46L10.9 43.8L10.5 41.5L9.2 39.4M11.1 57.9L9.4 55.9L9.3 53.6L8.8 51.3L7.6 49.2L6.7 47L6.8 44.6L7.6 42.1L7.6 39.8M1.2 59L2.4 56.6L3.4 54.3L3.1 52L2.3 49.7L1.9 47.4L2.2 45.1L2.1 42.8L0.8 40.5M-1.2 59L-1.6 56.7L-1.7 54.3L-2.6 52L-3.5 49.6L-3.3 47.3L-2 45.1L-0.8 42.8L-0.8 40.5M-11.1 57.9L-9 56L-8.4 53.7L-8.5 51.4L-8.3 49.1L-7.4 46.9L-6.7 44.6L-6.9 42.2L-7.6 39.8M-13.4 57.5L-12.8 55.2L-13.4 52.7L-14.1 50.1L-13.8 47.8L-12.5 45.8L-10.8 43.8L-9.8 41.7L-9.2 39.4M-22.9 54.4L-20.7 52.8L-20.2 50.5L-19.3 48.4L-17.8 46.5L-16.3 44.5L-15.8 42.3L-16.1 39.7L-15.7 37.3M-25.1 53.4L-24.3 51.2L-24.8 48.4L-24.5 46L-23 44.1L-21.1 42.5L-19.7 40.6L-18.8 38.5L-17.2 36.7M-33.7 48.4L-32 46.8L-30.6 45L-28.6 43.5L-26.4 42.1L-25.1 40.2L-24.8 37.7L-24.5 35.1L-23.1 33.2M-35.6 47L-35.1 44.5L-34.6 41.9L-33.1 40.2L-31.1 38.8L-29.4 37.2L-28.2 35.3L-26.8 33.4L-24.5 32.3M-43 40.4L-41.4 38.7L-39 37.9L-36.4 37.2L-34.4 35.9L-33.3 33.7L-32.5 31.3L-31.2 29.3L-29.5 27.7M-44.6 38.6L-44 35.8L-42.4 34.1L-40.3 33L-38.3 31.7L-36.8 29.9L-35.3 28.2L-33.2 27.1L-30.6 26.5M-50.5 30.5L-48.4 29.5L-45.6 29.6L-43.1 29.1L-41.4 27.6L-40 25.5L-38.3 23.8L-36.3 22.7L-34.7 21M-51.7 28.5L-50.3 26.1L-48.2 25.2L-46.1 24.3L-44.3 22.6L-42.5 21L-40.4 20.1L-37.8 20.1L-35.5 19.5M-55.7 19.4L-53.2 19.5L-50.6 20L-48.4 19.2L-46.5 17.7L-44.5 16.4L-42.3 15.8L-40 15.1L-38.3 13.3M-56.5 17.1L-54.4 15.8L-52.2 15.2L-50.2 13.8L-48.2 12.2L-46 11.5L-43.6 11.8L-41 12.4L-38.8 11.7M-58.5 7.3L-56 8.7L-53.7 8.8L-51.5 8L-49.2 7.3L-46.9 7.3L-44.5 7.3L-42.3 6.6L-40.2 5M-58.8 5L-56.5 4.8L-54.2 3.8L-52 2.3L-49.7 1.6L-47.4 2.1L-45 3.1L-42.7 3.6L-40.4 3.4M-58.8 -5L-56.6 -3.3L-54.3 -3.3L-52 -3.4L-49.7 -2.8L-47.4 -1.9L-45.1 -1.9L-42.7 -2.9L-40.4 -3.4M-58.5 -7.3L-56.2 -7.1L-53.7 -8.4L-51.3 -9.1L-49 -8.5L-46.9 -7.1L-44.7 -6.1L-42.4 -5.8L-40.2 -5M-56.5 -17.1L-54.5 -15.7L-52.2 -15.1L-50.2 -13.9L-48.2 -12.3L-46 -11.4L-43.6 -11.7L-41 -12.3L-38.8 -11.7M-55.7 -19.4L-53.3 -19.4L-50.6 -19.9L-48.4 -19.3L-46.5 -17.8L-44.5 -16.4L-42.3 -15.7L-40.1 -15.1L-38.3 -13.3M-51.7 -28.5L-49.7 -27.3L-48 -25.6L-46.5 -23.3L-44.8 -21.7L-42.5 -21.1L-39.9 -21.1L-37.5 -20.7L-35.5 -19.5M-50.5 -30.5L-47.7 -30.7L-45.4 -29.9L-43.7 -28.3L-42 -26.7L-39.9 -25.6L-37.8 -24.7L-36 -23.2L-34.7 -21M-44.6 -38.6L-42.9 -37.1L-42.1 -34.4L-41 -32.1L-39.1 -30.7L-36.7 -30L-34.5 -29.1L-32.7 -27.7L-30.6 -26.5M-43 -40.4L-40.2 -39.9L-38.7 -38.2L-37.3 -36.3L-35.4 -35L-33.2 -33.9L-31.6 -32.2L-30.7 -29.9L-29.5 -27.7M-35.6 -47L-34.8 -44.7L-34.6 -42L-33.3 -40L-31.3 -38.6L-29.4 -37.3L-27.9 -35.4L-26.7 -33.5L-24.5 -32.3M-33.7 -48.4L-31.6 -47L-30.5 -45L-28.8 -43.4L-26.7 -42L-25.1 -40.2L-24.5 -37.9L-24.3 -35.2L-23.1 -33.2M-25.1 -53.4L-25.5 -50.7L-25.1 -48.3L-23.7 -46.4L-22.1 -44.5L-21.2 -42.4L-20.6 -40.2L-19.3 -38.2L-17.2 -36.7M-22.9 -54.4L-21.9 -52.3L-20.5 -50.4L-18.5 -48.7L-16.9 -46.8L-16.5 -44.5L-16.7 -41.9L-16.7 -39.4L-15.7 -37.3M-13.4 -57.5L-14.5 -54.8L-13.8 -52.6L-12.9 -50.4L-12.6 -48.1L-12.6 -45.7L-12.1 -43.5L-10.6 -41.5L-9.2 -39.4M-11.1 -57.9L-10.7 -55.7L-8.9 -53.6L-7.3 -51.5L-6.9 -49.3L-7.5 -46.8L-8 -44.4L-7.7 -42.1L-7.6 -39.8" fill="none" stroke="#f49300" stroke-width="0.75" stroke-linejoin="round"/><ellipse cx="0" cy="-62.5" rx="4.5" ry="4.9" fill="#3fe3f6" transform="rotate(-90 0 -62.5)"/><ellipse cx="13" cy="-61.1" rx="4.5" ry="4.9" fill="#3fe3f6" transform="rotate(-78 13 -61.1)"/><ellipse cx="25.4" cy="-57.1" rx="4.5" ry="4.9" fill="#3fe3f6" transform="rotate(-66 25.4 -57.1)"/><ellipse cx="36.7" cy="-50.6" rx="4.5" ry="4.9" fill="#3fe3f6" transform="rotate(-54 36.7 -50.6)"/><ellipse cx="46.4" cy="-41.8" rx="4.5" ry="4.9" fill="#3fe3f6" transform="rotate(-42 46.4 -41.8)"/><ellipse cx="54.1" cy="-31.2" rx="4.5" ry="4.9" fill="#3fe3f6" transform="rotate(-30 54.1 -31.2)"/><ellipse cx="59.4" cy="-19.3" rx="4.5" ry="4.9" fill="#3fe3f6" transform="rotate(-18 59.4 -19.3)"/><ellipse cx="62.2" cy="-6.5" rx="4.5" ry="4.9" fill="#3fe3f6" transform="rotate(-6 62.2 -6.5)"/><ellipse cx="62.2" cy="6.5" rx="4.5" ry="4.9" fill="#3fe3f6" transform="rotate(6 62.2 6.5)"/><ellipse cx="59.4" cy="19.3" rx="4.5" ry="4.9" fill="#3fe3f6" transform="rotate(18 59.4 19.3)"/><ellipse cx="54.1" cy="31.2" rx="4.5" ry="4.9" fill="#3fe3f6" transform="rotate(30 54.1 31.2)"/><ellipse cx="46.4" cy="41.8" rx="4.5" ry="4.9" fill="#3fe3f6" transform="rotate(42 46.4 41.8)"/><ellipse cx="36.7" cy="50.6" rx="4.5" ry="4.9" fill="#3fe3f6" transform="rotate(54 36.7 50.6)"/><ellipse cx="25.4" cy="57.1" rx="4.5" ry="4.9" fill="#3fe3f6" transform="rotate(66 25.4 57.1)"/><ellipse cx="13" cy="61.1" rx="4.5" ry="4.9" fill="#3fe3f6" transform="rotate(78 13 61.1)"/><ellipse cx="0" cy="62.5" rx="4.5" ry="4.9" fill="#3fe3f6" transform="rotate(90 0 62.5)"/><ellipse cx="-13" cy="61.1" rx="4.5" ry="4.9" fill="#3fe3f6" transform="rotate(102 -13 61.1)"/><ellipse cx="-25.4" cy="57.1" rx="4.5" ry="4.9" fill="#3fe3f6" transform="rotate(114 -25.4 57.1)"/><ellipse cx="-36.7" cy="50.6" rx="4.5" ry="4.9" fill="#3fe3f6" transform="rotate(126 -36.7 50.6)"/><ellipse cx="-46.4" cy="41.8" rx="4.5" ry="4.9" fill="#3fe3f6" transform="rotate(138 -46.4 41.8)"/><ellipse cx="-54.1" cy="31.2" rx="4.5" ry="4.9" fill="#3fe3f6" transform="rotate(150 -54.1 31.2)"/><ellipse cx="-59.4" cy="19.3" rx="4.5" ry="4.9" fill="#3fe3f6" transform="rotate(162 -59.4 19.3)"/><ellipse cx="-62.2" cy="6.5" rx="4.5" ry="4.9" fill="#3fe3f6" transform="rotate(174 -62.2 6.5)"/><ellipse cx="-62.2" cy="-6.5" rx="4.5" ry="4.9" fill="#3fe3f6" transform="rotate(186 -62.2 -6.5)"/><ellipse cx="-59.4" cy="-19.3" rx="4.5" ry="4.9" fill="#3fe3f6" transform="rotate(198 -59.4 -19.3)"/><ellipse cx="-54.1" cy="-31.3" rx="4.5" ry="4.9" fill="#3fe3f6" transform="rotate(210 -54.1 -31.3)"/><ellipse cx="-46.4" cy="-41.8" rx="4.5" ry="4.9" fill="#3fe3f6" transform="rotate(222 -46.4 -41.8)"/><ellipse cx="-36.7" cy="-50.6" rx="4.5" ry="4.9" fill="#3fe3f6" transform="rotate(234 -36.7 -50.6)"/><ellipse cx="-25.4" cy="-57.1" rx="4.5" ry="4.9" fill="#3fe3f6" transform="rotate(246 -25.4 -57.1)"/><ellipse cx="-13" cy="-61.1" rx="4.5" ry="4.9" fill="#3fe3f6" transform="rotate(258 -13 -61.1)"/><ellipse cx="0" cy="-35.3" rx="4.2" ry="2.8" fill="#3fe3f6" transform="rotate(-90 0 -35.3)"/><ellipse cx="7.3" cy="-34.5" rx="4.2" ry="2.8" fill="#3fe3f6" transform="rotate(-78 7.3 -34.5)"/><ellipse cx="14.4" cy="-32.2" rx="4.2" ry="2.8" fill="#3fe3f6" transform="rotate(-66 14.4 -32.2)"/><ellipse cx="20.7" cy="-28.6" rx="4.2" ry="2.8" fill="#3fe3f6" transform="rotate(-54 20.7 -28.6)"/><ellipse cx="26.2" cy="-23.6" rx="4.2" ry="2.8" fill="#3fe3f6" transform="rotate(-42 26.2 -23.6)"/><ellipse cx="30.6" cy="-17.6" rx="4.2" ry="2.8" fill="#3fe3f6" transform="rotate(-30 30.6 -17.6)"/><ellipse cx="33.6" cy="-10.9" rx="4.2" ry="2.8" fill="#3fe3f6" transform="rotate(-18 33.6 -10.9)"/><ellipse cx="35.1" cy="-3.7" rx="4.2" ry="2.8" fill="#3fe3f6" transform="rotate(-6 35.1 -3.7)"/><ellipse cx="35.1" cy="3.7" rx="4.2" ry="2.8" fill="#3fe3f6" transform="rotate(6 35.1 3.7)"/><ellipse cx="33.6" cy="10.9" rx="4.2" ry="2.8" fill="#3fe3f6" transform="rotate(18 33.6 10.9)"/><ellipse cx="30.6" cy="17.6" rx="4.2" ry="2.8" fill="#3fe3f6" transform="rotate(30 30.6 17.6)"/><ellipse cx="26.2" cy="23.6" rx="4.2" ry="2.8" fill="#3fe3f6" transform="rotate(42 26.2 23.6)"/><ellipse cx="20.7" cy="28.6" rx="4.2" ry="2.8" fill="#3fe3f6" transform="rotate(54 20.7 28.6)"/><ellipse cx="14.4" cy="32.2" rx="4.2" ry="2.8" fill="#3fe3f6" transform="rotate(66 14.4 32.2)"/><ellipse cx="7.3" cy="34.5" rx="4.2" ry="2.8" fill="#3fe3f6" transform="rotate(78 7.3 34.5)"/><ellipse cx="0" cy="35.3" rx="4.2" ry="2.8" fill="#3fe3f6" transform="rotate(90 0 35.3)"/><ellipse cx="-7.3" cy="34.5" rx="4.2" ry="2.8" fill="#3fe3f6" transform="rotate(102 -7.3 34.5)"/><ellipse cx="-14.4" cy="32.2" rx="4.2" ry="2.8" fill="#3fe3f6" transform="rotate(114 -14.4 32.2)"/><ellipse cx="-20.7" cy="28.6" rx="4.2" ry="2.8" fill="#3fe3f6" transform="rotate(126 -20.7 28.6)"/><ellipse cx="-26.2" cy="23.6" rx="4.2" ry="2.8" fill="#3fe3f6" transform="rotate(138 -26.2 23.6)"/><ellipse cx="-30.6" cy="17.6" rx="4.2" ry="2.8" fill="#3fe3f6" transform="rotate(150 -30.6 17.6)"/><ellipse cx="-33.6" cy="10.9" rx="4.2" ry="2.8" fill="#3fe3f6" transform="rotate(162 -33.6 10.9)"/><ellipse cx="-35.1" cy="3.7" rx="4.2" ry="2.8" fill="#3fe3f6" transform="rotate(174 -35.1 3.7)"/><ellipse cx="-35.1" cy="-3.7" rx="4.2" ry="2.8" fill="#3fe3f6" transform="rotate(186 -35.1 -3.7)"/><ellipse cx="-33.6" cy="-10.9" rx="4.2" ry="2.8" fill="#3fe3f6" transform="rotate(198 -33.6 -10.9)"/><ellipse cx="-30.6" cy="-17.7" rx="4.2" ry="2.8" fill="#3fe3f6" transform="rotate(210 -30.6 -17.7)"/><ellipse cx="-26.2" cy="-23.6" rx="4.2" ry="2.8" fill="#3fe3f6" transform="rotate(222 -26.2 -23.6)"/><ellipse cx="-20.7" cy="-28.6" rx="4.2" ry="2.8" fill="#3fe3f6" transform="rotate(234 -20.7 -28.6)"/><ellipse cx="-14.4" cy="-32.2" rx="4.2" ry="2.8" fill="#3fe3f6" transform="rotate(246 -14.4 -32.2)"/><ellipse cx="-7.3" cy="-34.5" rx="4.2" ry="2.8" fill="#3fe3f6" transform="rotate(258 -7.3 -34.5)"/><ellipse cx="-8.5" cy="-48.8" rx="8.4" ry="5.2" fill="#e5342a" transform="rotate(-9.9 -8.5 -48.8)"/><ellipse cx="23.9" cy="-45" rx="8.4" ry="5.2" fill="#e5342a" transform="rotate(46 23.9 -45)"/><ellipse cx="45.5" cy="-20.7" rx="8.4" ry="5.2" fill="#e5342a" transform="rotate(83.5 45.5 -20.7)"/><ellipse cx="49.8" cy="4.3" rx="8.4" ry="5.2" fill="#e5342a" transform="rotate(94.9 49.8 4.3)"/><ellipse cx="37.2" cy="33.5" rx="8.4" ry="5.2" fill="#e5342a" transform="rotate(120 37.2 33.5)"/><ellipse cx="5" cy="47.7" rx="8.4" ry="5.2" fill="#e5342a" transform="rotate(174 5 47.7)"/><ellipse cx="-35" cy="33.9" rx="8.4" ry="5.2" fill="#e5342a" transform="rotate(243.9 -35 33.9)"/><ellipse cx="-47.3" cy="-5.3" rx="8.4" ry="5.2" fill="#e5342a" transform="rotate(-83.6 -47.3 -5.3)"/><ellipse cx="-37.7" cy="-32.8" rx="8.4" ry="5.2" fill="#e5342a" transform="rotate(-61 -37.7 -32.8)"/></g><circle cx="1124" cy="422.4" r="29.7" fill="url(#gs)"/><g transform="translate(196.2 597.4)"><use href="#lp7" transform="rotate(0)"/><use href="#lp7" transform="rotate(8.2)"/><use href="#lp7" transform="rotate(16.4)"/><use href="#lp7" transform="rotate(24.5)"/><use href="#lp7" transform="rotate(32.7)"/><use href="#lp7" transform="rotate(40.9)"/><use href="#lp7" transform="rotate(49.1)"/><use href="#lp7" transform="rotate(57.3)"/><use href="#lp7" transform="rotate(65.5)"/><use href="#lp7" transform="rotate(73.6)"/><use href="#lp7" transform="rotate(81.8)"/><use href="#lp7" transform="rotate(90)"/><use href="#lp7" transform="rotate(98.2)"/><use href="#lp7" transform="rotate(106.4)"/><use href="#lp7" transform="rotate(114.5)"/><use href="#lp7" transform="rotate(122.7)"/><use href="#lp7" transform="rotate(130.9)"/><use href="#lp7" transform="rotate(139.1)"/><use href="#lp7" transform="rotate(147.3)"/><use href="#lp7" transform="rotate(155.5)"/><use href="#lp7" transform="rotate(163.6)"/><use href="#lp7" transform="rotate(171.8)"/><use href="#lp7" transform="rotate(180)"/><use href="#lp7" transform="rotate(188.2)"/><use href="#lp7" transform="rotate(196.4)"/><use href="#lp7" transform="rotate(204.5)"/><use href="#lp7" transform="rotate(212.7)"/><use href="#lp7" transform="rotate(220.9)"/><use href="#lp7" transform="rotate(229.1)"/><use href="#lp7" transform="rotate(237.3)"/><use href="#lp7" transform="rotate(245.5)"/><use href="#lp7" transform="rotate(253.6)"/><use href="#lp7" transform="rotate(261.8)"/><use href="#lp7" transform="rotate(270)"/><use href="#lp7" transform="rotate(278.2)"/><use href="#lp7" transform="rotate(286.4)"/><use href="#lp7" transform="rotate(294.5)"/><use href="#lp7" transform="rotate(302.7)"/><use href="#lp7" transform="rotate(310.9)"/><use href="#lp7" transform="rotate(319.1)"/><use href="#lp7" transform="rotate(327.3)"/><use href="#lp7" transform="rotate(335.5)"/><use href="#lp7" transform="rotate(343.6)"/><use href="#lp7" transform="rotate(351.8)"/></g><circle cx="196.2" cy="597.4" r="31.9" fill="url(#gs)"/><path d="M192.8 551.8L191.4 533.6" stroke="#e6359a" stroke-width="0.8" stroke-dasharray="2 1"/><g transform="translate(192.1 542.7) rotate(-94.3)"><rect x="1" y="-1.4" width="3.6" height="2.8" fill="#2f9e44"/><ellipse cx="-0.8" cy="0" rx="3.6" ry="2.9" fill="#8d6b4a"/></g><g transform="translate(190.4 519.8)"><circle r="12.9" fill="none" stroke="#3fe3f6" stroke-width="1.8" stroke-dasharray="1.5 1.0"/><circle r="9.6" fill="none" stroke="#f59a1e" stroke-width="4.4"/><circle r="9.6" fill="none" stroke="#fff" stroke-width="4.4" stroke-dasharray="0.5 2.2" opacity="0.75"/><circle r="9.6" fill="none" stroke="#e5342a" stroke-width="2.6" stroke-dasharray="2.6 4.1"/><circle r="6.7" fill="#fff" stroke="#3fe3f6" stroke-width="1.4" stroke-dasharray="1.6 0.5"/></g><path d="M236 575L252.3 565.9" stroke="#e6359a" stroke-width="0.8" stroke-dasharray="2 1"/><g transform="translate(244.2 570.4) rotate(-29.4)"><rect x="1" y="-1.4" width="3.6" height="2.8" fill="#2f9e44"/><ellipse cx="-0.8" cy="0" rx="3.6" ry="2.9" fill="#8d6b4a"/></g><g transform="translate(264.3 559.1)"><circle r="12.9" fill="none" stroke="#3fe3f6" stroke-width="1.8" stroke-dasharray="1.5 1.0"/><circle r="9.6" fill="none" stroke="#f59a1e" stroke-width="4.4"/><circle r="9.6" fill="none" stroke="#fff" stroke-width="4.4" stroke-dasharray="0.5 2.2" opacity="0.75"/><circle r="9.6" fill="none" stroke="#e5342a" stroke-width="2.6" stroke-dasharray="2.6 4.1"/><circle r="6.7" fill="#fff" stroke="#3fe3f6" stroke-width="1.4" stroke-dasharray="1.6 0.5"/></g><path d="M238.9 613.7L256.7 620.6" stroke="#e6359a" stroke-width="0.8" stroke-dasharray="2 1"/><g transform="translate(247.8 617.2) rotate(20.9)"><rect x="1" y="-1.4" width="3.6" height="2.8" fill="#2f9e44"/><ellipse cx="-0.8" cy="0" rx="3.6" ry="2.9" fill="#8d6b4a"/></g><g transform="translate(269.6 625.5)"><circle r="12.9" fill="none" stroke="#3fe3f6" stroke-width="1.8" stroke-dasharray="1.5 1.0"/><circle r="9.6" fill="none" stroke="#f59a1e" stroke-width="4.4"/><circle r="9.6" fill="none" stroke="#fff" stroke-width="4.4" stroke-dasharray="0.5 2.2" opacity="0.75"/><circle r="9.6" fill="none" stroke="#e5342a" stroke-width="2.6" stroke-dasharray="2.6 4.1"/><circle r="6.7" fill="#fff" stroke="#3fe3f6" stroke-width="1.4" stroke-dasharray="1.6 0.5"/></g><path d="M204 642.4L207 659.8" stroke="#e6359a" stroke-width="0.8" stroke-dasharray="2 1"/><g transform="translate(205.5 651.1) rotate(80.1)"><rect x="1" y="-1.4" width="3.6" height="2.8" fill="#2f9e44"/><ellipse cx="-0.8" cy="0" rx="3.6" ry="2.9" fill="#8d6b4a"/></g><g transform="translate(209.4 673.4)"><circle r="12.9" fill="none" stroke="#3fe3f6" stroke-width="1.8" stroke-dasharray="1.5 1.0"/><circle r="9.6" fill="none" stroke="#f59a1e" stroke-width="4.4"/><circle r="9.6" fill="none" stroke="#fff" stroke-width="4.4" stroke-dasharray="0.5 2.2" opacity="0.75"/><circle r="9.6" fill="none" stroke="#e5342a" stroke-width="2.6" stroke-dasharray="2.6 4.1"/><circle r="6.7" fill="#fff" stroke="#3fe3f6" stroke-width="1.4" stroke-dasharray="1.6 0.5"/></g><path d="M163.1 628.9L150.4 641.1" stroke="#e6359a" stroke-width="0.8" stroke-dasharray="2 1"/><g transform="translate(156.8 635) rotate(136.4)"><rect x="1" y="-1.4" width="3.6" height="2.8" fill="#2f9e44"/><ellipse cx="-0.8" cy="0" rx="3.6" ry="2.9" fill="#8d6b4a"/></g><g transform="translate(140.4 650.6)"><circle r="12.9" fill="none" stroke="#3fe3f6" stroke-width="1.8" stroke-dasharray="1.5 1.0"/><circle r="9.6" fill="none" stroke="#f59a1e" stroke-width="4.4"/><circle r="9.6" fill="none" stroke="#fff" stroke-width="4.4" stroke-dasharray="0.5 2.2" opacity="0.75"/><circle r="9.6" fill="none" stroke="#e5342a" stroke-width="2.6" stroke-dasharray="2.6 4.1"/><circle r="6.7" fill="#fff" stroke="#3fe3f6" stroke-width="1.4" stroke-dasharray="1.6 0.5"/></g><path d="M154.2 579.4L137.2 572" stroke="#e6359a" stroke-width="0.8" stroke-dasharray="2 1"/><g transform="translate(145.7 575.7) rotate(-156.8)"><rect x="1" y="-1.4" width="3.6" height="2.8" fill="#2f9e44"/><ellipse cx="-0.8" cy="0" rx="3.6" ry="2.9" fill="#8d6b4a"/></g><g transform="translate(124.5 566.6)"><circle r="12.9" fill="none" stroke="#3fe3f6" stroke-width="1.8" stroke-dasharray="1.5 1.0"/><circle r="9.6" fill="none" stroke="#f59a1e" stroke-width="4.4"/><circle r="9.6" fill="none" stroke="#fff" stroke-width="4.4" stroke-dasharray="0.5 2.2" opacity="0.75"/><circle r="9.6" fill="none" stroke="#e5342a" stroke-width="2.6" stroke-dasharray="2.6 4.1"/><circle r="6.7" fill="#fff" stroke="#3fe3f6" stroke-width="1.4" stroke-dasharray="1.6 0.5"/></g><g transform="translate(507.7 612.4)"><circle r="47" fill="none" stroke="#1bab6c" stroke-width="10.6"/><use href="#po8" transform="rotate(0)"/><use href="#po8" transform="rotate(9.5)"/><use href="#po8" transform="rotate(18.9)"/><use href="#po8" transform="rotate(28.4)"/><use href="#po8" transform="rotate(37.9)"/><use href="#po8" transform="rotate(47.4)"/><use href="#po8" transform="rotate(56.8)"/><use href="#po8" transform="rotate(66.3)"/><use href="#po8" transform="rotate(75.8)"/><use href="#po8" transform="rotate(85.3)"/><use href="#po8" transform="rotate(94.7)"/><use href="#po8" transform="rotate(104.2)"/><use href="#po8" transform="rotate(113.7)"/><use href="#po8" transform="rotate(123.2)"/><use href="#po8" transform="rotate(132.6)"/><use href="#po8" transform="rotate(142.1)"/><use href="#po8" transform="rotate(151.6)"/><use href="#po8" transform="rotate(161.1)"/><use href="#po8" transform="rotate(170.5)"/><use href="#po8" transform="rotate(180)"/><use href="#po8" transform="rotate(189.5)"/><use href="#po8" transform="rotate(198.9)"/><use href="#po8" transform="rotate(208.4)"/><use href="#po8" transform="rotate(217.9)"/><use href="#po8" transform="rotate(227.4)"/><use href="#po8" transform="rotate(236.8)"/><use href="#po8" transform="rotate(246.3)"/><use href="#po8" transform="rotate(255.8)"/><use href="#po8" transform="rotate(265.3)"/><use href="#po8" transform="rotate(274.7)"/><use href="#po8" transform="rotate(284.2)"/><use href="#po8" transform="rotate(293.7)"/><use href="#po8" transform="rotate(303.2)"/><use href="#po8" transform="rotate(312.6)"/><use href="#po8" transform="rotate(322.1)"/><use href="#po8" transform="rotate(331.6)"/><use href="#po8" transform="rotate(341.1)"/><use href="#po8" transform="rotate(350.5)"/><use href="#pi8" transform="rotate(0)"/><use href="#pi8" transform="rotate(12)"/><use href="#pi8" transform="rotate(24)"/><use href="#pi8" transform="rotate(36)"/><use href="#pi8" transform="rotate(48)"/><use href="#pi8" transform="rotate(60)"/><use href="#pi8" transform="rotate(72)"/><use href="#pi8" transform="rotate(84)"/><use href="#pi8" transform="rotate(96)"/><use href="#pi8" transform="rotate(108)"/><use href="#pi8" transform="rotate(120)"/><use href="#pi8" transform="rotate(132)"/><use href="#pi8" transform="rotate(144)"/><use href="#pi8" transform="rotate(156)"/><use href="#pi8" transform="rotate(168)"/><use href="#pi8" transform="rotate(180)"/><use href="#pi8" transform="rotate(192)"/><use href="#pi8" transform="rotate(204)"/><use href="#pi8" transform="rotate(216)"/><use href="#pi8" transform="rotate(228)"/><use href="#pi8" transform="rotate(240)"/><use href="#pi8" transform="rotate(252)"/><use href="#pi8" transform="rotate(264)"/><use href="#pi8" transform="rotate(276)"/><use href="#pi8" transform="rotate(288)"/><use href="#pi8" transform="rotate(300)"/><use href="#pi8" transform="rotate(312)"/><use href="#pi8" transform="rotate(324)"/><use href="#pi8" transform="rotate(336)"/><use href="#pi8" transform="rotate(348)"/></g><circle cx="507.7" cy="612.4" r="28.6" fill="url(#gs)"/><circle cx="497" cy="591.9" r="4.6" fill="#e5342a"/><circle cx="511.1" cy="590.4" r="4.6" fill="#e5342a"/><circle cx="506.8" cy="599.6" r="4.6" fill="#e5342a"/><circle cx="516.8" cy="598.3" r="4.6" fill="#e5342a"/><circle cx="522.8" cy="599.6" r="4.6" fill="#e5342a"/><circle cx="495.5" cy="603.6" r="4.6" fill="#e5342a"/><circle cx="486.6" cy="609.1" r="4.6" fill="#e5342a"/><circle cx="503" cy="611.7" r="4.6" fill="#e5342a"/><circle cx="516.4" cy="610" r="4.6" fill="#e5342a"/><circle cx="524.7" cy="610.6" r="4.6" fill="#e5342a"/><circle cx="531.7" cy="605.7" r="4.6" fill="#e5342a"/><circle cx="495.5" cy="616.4" r="4.6" fill="#e5342a"/><circle cx="510.4" cy="616.6" r="4.6" fill="#e5342a"/><circle cx="487" cy="620.6" r="4.6" fill="#e5342a"/><circle cx="501.9" cy="623" r="4.6" fill="#e5342a"/><circle cx="518.3" cy="622.3" r="4.6" fill="#e5342a"/><circle cx="530.2" cy="620.6" r="4.6" fill="#e5342a"/><circle cx="494.5" cy="627.7" r="4.6" fill="#e5342a"/><circle cx="510" cy="634" r="4.6" fill="#e5342a"/><g transform="translate(840.9 604.3)"><g fill="none" stroke="#f49300" stroke-width="0.85" stroke-dasharray="2.6 0.5"><ellipse cx="0" cy="-58.3" rx="9.3" ry="2.4" transform="rotate(-90 0 -58.3)"/><ellipse cx="9.1" cy="-57.6" rx="9.3" ry="2.4" transform="rotate(-81 9.1 -57.6)"/><ellipse cx="18" cy="-55.4" rx="9.3" ry="2.4" transform="rotate(-72 18 -55.4)"/><ellipse cx="26.5" cy="-51.9" rx="9.3" ry="2.4" transform="rotate(-63 26.5 -51.9)"/><ellipse cx="34.3" cy="-47.2" rx="9.3" ry="2.4" transform="rotate(-54 34.3 -47.2)"/><ellipse cx="41.2" cy="-41.2" rx="9.3" ry="2.4" transform="rotate(-45 41.2 -41.2)"/><ellipse cx="47.2" cy="-34.3" rx="9.3" ry="2.4" transform="rotate(-36 47.2 -34.3)"/><ellipse cx="51.9" cy="-26.5" rx="9.3" ry="2.4" transform="rotate(-27 51.9 -26.5)"/><ellipse cx="55.4" cy="-18" rx="9.3" ry="2.4" transform="rotate(-18 55.4 -18)"/><ellipse cx="57.6" cy="-9.1" rx="9.3" ry="2.4" transform="rotate(-9 57.6 -9.1)"/><ellipse cx="58.3" cy="0" rx="9.3" ry="2.4" transform="rotate(0 58.3 0)"/><ellipse cx="57.6" cy="9.1" rx="9.3" ry="2.4" transform="rotate(9 57.6 9.1)"/><ellipse cx="55.4" cy="18" rx="9.3" ry="2.4" transform="rotate(18 55.4 18)"/><ellipse cx="51.9" cy="26.5" rx="9.3" ry="2.4" transform="rotate(27 51.9 26.5)"/><ellipse cx="47.2" cy="34.3" rx="9.3" ry="2.4" transform="rotate(36 47.2 34.3)"/><ellipse cx="41.2" cy="41.2" rx="9.3" ry="2.4" transform="rotate(45 41.2 41.2)"/><ellipse cx="34.3" cy="47.2" rx="9.3" ry="2.4" transform="rotate(54 34.3 47.2)"/><ellipse cx="26.5" cy="51.9" rx="9.3" ry="2.4" transform="rotate(63 26.5 51.9)"/><ellipse cx="18" cy="55.4" rx="9.3" ry="2.4" transform="rotate(72 18 55.4)"/><ellipse cx="9.1" cy="57.6" rx="9.3" ry="2.4" transform="rotate(81 9.1 57.6)"/><ellipse cx="0" cy="58.3" rx="9.3" ry="2.4" transform="rotate(90 0 58.3)"/><ellipse cx="-9.1" cy="57.6" rx="9.3" ry="2.4" transform="rotate(99 -9.1 57.6)"/><ellipse cx="-18" cy="55.4" rx="9.3" ry="2.4" transform="rotate(108 -18 55.4)"/><ellipse cx="-26.5" cy="51.9" rx="9.3" ry="2.4" transform="rotate(117 -26.5 51.9)"/><ellipse cx="-34.3" cy="47.2" rx="9.3" ry="2.4" transform="rotate(126 -34.3 47.2)"/><ellipse cx="-41.2" cy="41.2" rx="9.3" ry="2.4" transform="rotate(135 -41.2 41.2)"/><ellipse cx="-47.2" cy="34.3" rx="9.3" ry="2.4" transform="rotate(144 -47.2 34.3)"/><ellipse cx="-51.9" cy="26.5" rx="9.3" ry="2.4" transform="rotate(153 -51.9 26.5)"/><ellipse cx="-55.4" cy="18" rx="9.3" ry="2.4" transform="rotate(162 -55.4 18)"/><ellipse cx="-57.6" cy="9.1" rx="9.3" ry="2.4" transform="rotate(171 -57.6 9.1)"/><ellipse cx="-58.3" cy="0" rx="9.3" ry="2.4" transform="rotate(180 -58.3 0)"/><ellipse cx="-57.6" cy="-9.1" rx="9.3" ry="2.4" transform="rotate(189 -57.6 -9.1)"/><ellipse cx="-55.4" cy="-18" rx="9.3" ry="2.4" transform="rotate(198 -55.4 -18)"/><ellipse cx="-51.9" cy="-26.5" rx="9.3" ry="2.4" transform="rotate(207 -51.9 -26.5)"/><ellipse cx="-47.2" cy="-34.3" rx="9.3" ry="2.4" transform="rotate(216 -47.2 -34.3)"/><ellipse cx="-41.2" cy="-41.2" rx="9.3" ry="2.4" transform="rotate(225 -41.2 -41.2)"/><ellipse cx="-34.3" cy="-47.2" rx="9.3" ry="2.4" transform="rotate(234 -34.3 -47.2)"/><ellipse cx="-26.5" cy="-51.9" rx="9.3" ry="2.4" transform="rotate(243 -26.5 -51.9)"/><ellipse cx="-18" cy="-55.4" rx="9.3" ry="2.4" transform="rotate(252 -18 -55.4)"/><ellipse cx="-9.1" cy="-57.6" rx="9.3" ry="2.4" transform="rotate(261 -9.1 -57.6)"/></g><circle cx="0" cy="-69.8" r="3.9" fill="#3fe3f6"/><circle cx="10.9" cy="-68.9" r="3.9" fill="#3fe3f6"/><circle cx="21.6" cy="-66.4" r="3.9" fill="#3fe3f6"/><circle cx="31.7" cy="-62.2" r="3.9" fill="#3fe3f6"/><circle cx="41" cy="-56.5" r="3.9" fill="#3fe3f6"/><circle cx="49.4" cy="-49.4" r="3.9" fill="#3fe3f6"/><circle cx="56.5" cy="-41" r="3.9" fill="#3fe3f6"/><circle cx="62.2" cy="-31.7" r="3.9" fill="#3fe3f6"/><circle cx="66.4" cy="-21.6" r="3.9" fill="#3fe3f6"/><circle cx="68.9" cy="-10.9" r="3.9" fill="#3fe3f6"/><circle cx="69.8" cy="0" r="3.9" fill="#3fe3f6"/><circle cx="68.9" cy="10.9" r="3.9" fill="#3fe3f6"/><circle cx="66.4" cy="21.6" r="3.9" fill="#3fe3f6"/><circle cx="62.2" cy="31.7" r="3.9" fill="#3fe3f6"/><circle cx="56.5" cy="41" r="3.9" fill="#3fe3f6"/><circle cx="49.4" cy="49.4" r="3.9" fill="#3fe3f6"/><circle cx="41" cy="56.5" r="3.9" fill="#3fe3f6"/><circle cx="31.7" cy="62.2" r="3.9" fill="#3fe3f6"/><circle cx="21.6" cy="66.4" r="3.9" fill="#3fe3f6"/><circle cx="10.9" cy="68.9" r="3.9" fill="#3fe3f6"/><circle cx="0" cy="69.8" r="3.9" fill="#3fe3f6"/><circle cx="-10.9" cy="68.9" r="3.9" fill="#3fe3f6"/><circle cx="-21.6" cy="66.4" r="3.9" fill="#3fe3f6"/><circle cx="-31.7" cy="62.2" r="3.9" fill="#3fe3f6"/><circle cx="-41" cy="56.5" r="3.9" fill="#3fe3f6"/><circle cx="-49.4" cy="49.4" r="3.9" fill="#3fe3f6"/><circle cx="-56.5" cy="41" r="3.9" fill="#3fe3f6"/><circle cx="-62.2" cy="31.7" r="3.9" fill="#3fe3f6"/><circle cx="-66.4" cy="21.6" r="3.9" fill="#3fe3f6"/><circle cx="-68.9" cy="10.9" r="3.9" fill="#3fe3f6"/><circle cx="-69.8" cy="0" r="3.9" fill="#3fe3f6"/><circle cx="-68.9" cy="-10.9" r="3.9" fill="#3fe3f6"/><circle cx="-66.4" cy="-21.6" r="3.9" fill="#3fe3f6"/><circle cx="-62.2" cy="-31.7" r="3.9" fill="#3fe3f6"/><circle cx="-56.5" cy="-41" r="3.9" fill="#3fe3f6"/><circle cx="-49.4" cy="-49.4" r="3.9" fill="#3fe3f6"/><circle cx="-41" cy="-56.5" r="3.9" fill="#3fe3f6"/><circle cx="-31.7" cy="-62.2" r="3.9" fill="#3fe3f6"/><circle cx="-21.6" cy="-66.4" r="3.9" fill="#3fe3f6"/><circle cx="-10.9" cy="-68.9" r="3.9" fill="#3fe3f6"/><circle cx="0" cy="-46.6" r="3.3" fill="#3fe3f6"/><circle cx="8.1" cy="-45.9" r="3.3" fill="#3fe3f6"/><circle cx="15.9" cy="-43.8" r="3.3" fill="#3fe3f6"/><circle cx="23.3" cy="-40.4" r="3.3" fill="#3fe3f6"/><circle cx="30" cy="-35.7" r="3.3" fill="#3fe3f6"/><circle cx="35.7" cy="-30" r="3.3" fill="#3fe3f6"/><circle cx="40.4" cy="-23.3" r="3.3" fill="#3fe3f6"/><circle cx="43.8" cy="-15.9" r="3.3" fill="#3fe3f6"/><circle cx="45.9" cy="-8.1" r="3.3" fill="#3fe3f6"/><circle cx="46.6" cy="0" r="3.3" fill="#3fe3f6"/><circle cx="45.9" cy="8.1" r="3.3" fill="#3fe3f6"/><circle cx="43.8" cy="15.9" r="3.3" fill="#3fe3f6"/><circle cx="40.4" cy="23.3" r="3.3" fill="#3fe3f6"/><circle cx="35.7" cy="30" r="3.3" fill="#3fe3f6"/><circle cx="30" cy="35.7" r="3.3" fill="#3fe3f6"/><circle cx="23.3" cy="40.4" r="3.3" fill="#3fe3f6"/><circle cx="15.9" cy="43.8" r="3.3" fill="#3fe3f6"/><circle cx="8.1" cy="45.9" r="3.3" fill="#3fe3f6"/><circle cx="0" cy="46.6" r="3.3" fill="#3fe3f6"/><circle cx="-8.1" cy="45.9" r="3.3" fill="#3fe3f6"/><circle cx="-15.9" cy="43.8" r="3.3" fill="#3fe3f6"/><circle cx="-23.3" cy="40.4" r="3.3" fill="#3fe3f6"/><circle cx="-30" cy="35.7" r="3.3" fill="#3fe3f6"/><circle cx="-35.7" cy="30" r="3.3" fill="#3fe3f6"/><circle cx="-40.4" cy="23.3" r="3.3" fill="#3fe3f6"/><circle cx="-43.8" cy="15.9" r="3.3" fill="#3fe3f6"/><circle cx="-45.9" cy="8.1" r="3.3" fill="#3fe3f6"/><circle cx="-46.6" cy="0" r="3.3" fill="#3fe3f6"/><circle cx="-45.9" cy="-8.1" r="3.3" fill="#3fe3f6"/><circle cx="-43.8" cy="-15.9" r="3.3" fill="#3fe3f6"/><circle cx="-40.4" cy="-23.3" r="3.3" fill="#3fe3f6"/><circle cx="-35.7" cy="-30" r="3.3" fill="#3fe3f6"/><circle cx="-30" cy="-35.7" r="3.3" fill="#3fe3f6"/><circle cx="-23.3" cy="-40.4" r="3.3" fill="#3fe3f6"/><circle cx="-15.9" cy="-43.8" r="3.3" fill="#3fe3f6"/><circle cx="-8.1" cy="-45.9" r="3.3" fill="#3fe3f6"/></g><circle cx="840.9" cy="604.3" r="41.2" fill="url(#gs)"/><path d="M829.4 563.3Q836.7 549.3 831.8 537.1A10.9 10.9 0 0 0 811.2 544.3Q815 556.9 829.4 563.3Z" fill="#fff" /><path d="M838.5 561.3Q845.6 549.7 843.4 537A8.3 8.3 0 0 0 827 539.4Q828.4 552.1 838.5 561.3Z" fill="#fff" /><path d="M831.9 561.3Q836.8 548.4 832.3 536A8.3 8.3 0 0 0 816.6 541.1Q820.3 553.7 831.9 561.3Z" fill="#6882a8" /><path d="M827.4 562.6Q830.3 550 824.2 539.9A8.3 8.3 0 0 0 809.8 548Q815.2 558.5 827.4 562.6Z" fill="#7a93bd" /><path d="M838.7 560.7Q844.3 549.3 842.1 536.8A6.9 6.9 0 0 0 828.3 538.9Q829.9 551.5 838.7 560.7Z" fill="#7a93bd" /><path d="M877.7 572.6L892.2 562.6L894.4 547.3M892.2 562.6L906.8 563.3" fill="none" stroke="#fff" stroke-width="8.8" stroke-linecap="round" stroke-linejoin="round"/><path d="M877.7 572.6L892.2 562.6L894.4 547.3M892.2 562.6L906.8 563.3" fill="none" stroke="#d9944a" stroke-width="6.8" stroke-linecap="round" stroke-linejoin="round"/><path d="M877.7 572.6L892.2 562.6" stroke="#d9944a" stroke-width="8.4" stroke-linecap="round"/><path d="M859.2 648.1L868.3 666.3L879.8 670.7M868.3 666.3L861.2 679.5" fill="none" stroke="#fff" stroke-width="8.8" stroke-linecap="round" stroke-linejoin="round"/><path d="M859.2 648.1L868.3 666.3L879.8 670.7M868.3 666.3L861.2 679.5" fill="none" stroke="#d9944a" stroke-width="6.8" stroke-linecap="round" stroke-linejoin="round"/><path d="M859.2 648.1L868.3 666.3" stroke="#d9944a" stroke-width="8.4" stroke-linecap="round"/><path d="M796 620.2L782.3 625.5L767.9 618.8M782.3 625.5L773.6 636" fill="none" stroke="#fff" stroke-width="9.6" stroke-linecap="round" stroke-linejoin="round"/><path d="M796 620.2L782.3 625.5L767.9 618.8M782.3 625.5L773.6 636" fill="none" stroke="#b98489" stroke-width="7.6" stroke-linecap="round" stroke-linejoin="round"/><path d="M796 620.2L782.3 625.5" stroke="#b98489" stroke-width="9.2" stroke-linecap="round"/><path d="M882.6 615.5 Q892.2 612.2 905.5 613.6 L917.9 615.2 L913.7 619.2 L915 625.8 Q900.5 622.5 885.6 618.8Z" fill="#b6366f" stroke="#fff" stroke-width="1"/><path transform="translate(821.5 585.8) rotate(55.7)" d="M0 0Q2.6 5.2 5.3 0Q7.9 -5.2 10.6 0Q13.2 5.2 15.8 0Q18.5 -5.2 21.1 0Q23.8 5.2 26.4 0" fill="none" stroke="#e0281c" stroke-width="1.2" stroke-linecap="round"/><g transform="translate(851.9 593.6) rotate(32)"><ellipse cx="-9.2" cy="0" rx="1.5" ry="2.5" fill="#3aa3e0"/><ellipse cx="-4.6" cy="0" rx="1.5" ry="2.5" fill="#3aa3e0"/><ellipse cx="0" cy="0" rx="1.5" ry="2.5" fill="#3aa3e0"/><ellipse cx="4.6" cy="0" rx="1.5" ry="2.5" fill="#3aa3e0"/><ellipse cx="9.2" cy="0" rx="1.5" ry="2.5" fill="#3aa3e0"/><path d="M-14 -3.4 L-11.5 0 Q-9.2 -6.8 -6.9 0 Q-4.6 6.8 -2.3 0 Q0 -6.8 2.3 0 Q4.6 6.8 6.9 0 Q9.2 -6.8 11.5 0 L14 -3.4M-14 3.4 L-11.5 0 Q-9.2 6.8 -6.9 0 Q-4.6 -6.8 -2.3 0 Q0 6.8 2.3 0 Q4.6 -6.8 6.9 0 Q9.2 6.8 11.5 0 L14 3.4" fill="none" stroke="#e0281c" stroke-width="1.0" stroke-linecap="round"/></g><g transform="translate(823.6 623.8) rotate(0)"><ellipse cx="-9.2" cy="0" rx="1.5" ry="2.5" fill="#3aa3e0"/><ellipse cx="-4.6" cy="0" rx="1.5" ry="2.5" fill="#3aa3e0"/><ellipse cx="0" cy="0" rx="1.5" ry="2.5" fill="#3aa3e0"/><ellipse cx="4.6" cy="0" rx="1.5" ry="2.5" fill="#3aa3e0"/><ellipse cx="9.2" cy="0" rx="1.5" ry="2.5" fill="#3aa3e0"/><path d="M-14 -3.4 L-11.5 0 Q-9.2 -6.8 -6.9 0 Q-4.6 6.8 -2.3 0 Q0 -6.8 2.3 0 Q4.6 6.8 6.9 0 Q9.2 -6.8 11.5 0 L14 -3.4M-14 3.4 L-11.5 0 Q-9.2 6.8 -6.9 0 Q-4.6 -6.8 -2.3 0 Q0 6.8 2.3 0 Q4.6 -6.8 6.9 0 Q9.2 6.8 11.5 0 L14 3.4" fill="none" stroke="#e0281c" stroke-width="1.0" stroke-linecap="round"/></g><path transform="translate(844 618.8) rotate(13.9)" d="M0 0Q2.6 6.4 5.2 0Q7.9 -6.4 10.5 0Q13.1 6.4 15.7 0Q18.4 -6.4 21 0Q23.6 6.4 26.2 0" fill="none" stroke="#e0281c" stroke-width="1.2" stroke-linecap="round"/><g transform="translate(1143.1 605.5)"><g fill="none" stroke="#9748c3" stroke-width="3"><circle cx="58" cy="5.3" r="6.4"/><circle cx="55.6" cy="13.1" r="6.4"/><circle cx="51.1" cy="20.7" r="6.4"/><circle cx="45.5" cy="26.7" r="6.4"/><circle cx="37.4" cy="32.7" r="6.4"/><circle cx="31.6" cy="35.8" r="6.4"/><circle cx="20.4" cy="39.8" r="6.4"/><circle cx="8" cy="42.1" r="6.4"/><circle cx="-1.6" cy="42.5" r="6.4"/><circle cx="-13.3" cy="41.4" r="6.4"/><circle cx="-20.5" cy="39.8" r="6.4"/><circle cx="-31.5" cy="35.8" r="6.4"/><circle cx="-39.4" cy="31.4" r="6.4"/><circle cx="-47.4" cy="25" r="6.4"/><circle cx="-52.9" cy="18.1" r="6.4"/><circle cx="-56" cy="12.4" r="6.4"/><circle cx="-58.2" cy="4.1" r="6.4"/><circle cx="-58.2" cy="-4" r="6.4"/><circle cx="-55.5" cy="-13.5" r="6.4"/><circle cx="-51.4" cy="-20.3" r="6.4"/><circle cx="-46.9" cy="-25.4" r="6.4"/><circle cx="-37.8" cy="-32.4" r="6.4"/><circle cx="-31.2" cy="-35.9" r="6.4"/><circle cx="-19.8" cy="-40" r="6.4"/><circle cx="-11.3" cy="-41.7" r="6.4"/><circle cx="-1.1" cy="-42.5" r="6.4"/><circle cx="13.2" cy="-41.4" r="6.4"/><circle cx="20.9" cy="-39.7" r="6.4"/><circle cx="30.6" cy="-36.2" r="6.4"/><circle cx="41.5" cy="-29.9" r="6.4"/><circle cx="48.1" cy="-24.2" r="6.4"/><circle cx="52.4" cy="-18.9" r="6.4"/><circle cx="57" cy="-9.6" r="6.4"/><circle cx="58.3" cy="-3.1" r="6.4"/><circle cx="53.2" cy="3.6" r="6.2"/><circle cx="50.3" cy="12.5" r="6.2"/><circle cx="46.3" cy="18.5" r="6.2"/><circle cx="39.5" cy="24.9" r="6.2"/><circle cx="31.9" cy="29.7" r="6.2"/><circle cx="24.9" cy="32.7" r="6.2"/><circle cx="15" cy="35.5" r="6.2"/><circle cx="5.4" cy="36.8" r="6.2"/><circle cx="-5" cy="36.8" r="6.2"/><circle cx="-15" cy="35.5" r="6.2"/><circle cx="-25.5" cy="32.5" r="6.2"/><circle cx="-35.1" cy="27.9" r="6.2"/><circle cx="-40.9" cy="23.9" r="6.2"/><circle cx="-48" cy="16.4" r="6.2"/><circle cx="-51.3" cy="10.4" r="6.2"/><circle cx="-53.3" cy="3.4" r="6.2"/><circle cx="-53" cy="-5.2" r="6.2"/><circle cx="-50.9" cy="-11.4" r="6.2"/><circle cx="-47" cy="-17.7" r="6.2"/><circle cx="-40.7" cy="-24" r="6.2"/><circle cx="-32.5" cy="-29.4" r="6.2"/><circle cx="-25.7" cy="-32.4" r="6.2"/><circle cx="-12.8" cy="-35.9" r="6.2"/><circle cx="-5.9" cy="-36.8" r="6.2"/><circle cx="7.2" cy="-36.7" r="6.2"/><circle cx="17.8" cy="-34.9" r="6.2"/><circle cx="24.6" cy="-32.9" r="6.2"/><circle cx="35.6" cy="-27.6" r="6.2"/><circle cx="41.7" cy="-23.2" r="6.2"/><circle cx="47.8" cy="-16.6" r="6.2"/><circle cx="51" cy="-11.2" r="6.2"/><circle cx="53.2" cy="-4.1" r="6.2"/><circle cx="48.4" cy="2" r="6"/><circle cx="47.3" cy="6.9" r="6"/><circle cx="43.3" cy="14.2" r="6"/><circle cx="37.4" cy="20" r="6"/><circle cx="30.1" cy="24.7" r="6"/><circle cx="23.4" cy="27.6" r="6"/><circle cx="14" cy="30.2" r="6"/><circle cx="3.5" cy="31.4" r="6"/><circle cx="-7.5" cy="31.1" r="6"/><circle cx="-15.2" cy="29.9" r="6"/><circle cx="-26.3" cy="26.5" r="6"/><circle cx="-34.3" cy="22.3" r="6"/><circle cx="-40.8" cy="17" r="6"/><circle cx="-44.3" cy="12.8" r="6"/><circle cx="-48" cy="4.6" r="6"/><circle cx="-48.5" cy="-0.1" r="6"/><circle cx="-47.2" cy="-7.2" r="6"/><circle cx="-43.5" cy="-13.9" r="6"/><circle cx="-37.4" cy="-20" r="6"/><circle cx="-31.7" cy="-23.8" r="6"/><circle cx="-21.6" cy="-28.2" r="6"/><circle cx="-13.4" cy="-30.3" r="6"/><circle cx="-4.2" cy="-31.4" r="6"/><circle cx="6" cy="-31.3" r="6"/><circle cx="15.4" cy="-29.9" r="6"/><circle cx="24.3" cy="-27.2" r="6"/><circle cx="32.7" cy="-23.3" r="6"/><circle cx="40.5" cy="-17.4" r="6"/><circle cx="45.5" cy="-10.9" r="6"/><circle cx="47.5" cy="-6.3" r="6"/><circle cx="44" cy="1.1" r="5.6"/><circle cx="42.8" cy="6.1" r="5.6"/><circle cx="39.6" cy="11.3" r="5.6"/><circle cx="34.7" cy="16" r="5.6"/><circle cx="26.9" cy="20.6" r="5.6"/><circle cx="17.8" cy="23.8" r="5.6"/><circle cx="9.6" cy="25.4" r="5.6"/><circle cx="-0.1" cy="26" r="5.6"/><circle cx="-8.8" cy="25.5" r="5.6"/><circle cx="-20.6" cy="23" r="5.6"/><circle cx="-26.6" cy="20.7" r="5.6"/><circle cx="-34.6" cy="16" r="5.6"/><circle cx="-40.2" cy="10.5" r="5.6"/><circle cx="-42.7" cy="6.2" r="5.6"/><circle cx="-44" cy="-0.6" r="5.6"/><circle cx="-42.5" cy="-6.8" r="5.6"/><circle cx="-39.3" cy="-11.7" r="5.6"/><circle cx="-33.6" cy="-16.8" r="5.6"/><circle cx="-28.1" cy="-20" r="5.6"/><circle cx="-18.9" cy="-23.5" r="5.6"/><circle cx="-10.5" cy="-25.3" r="5.6"/><circle cx="1.4" cy="-26" r="5.6"/><circle cx="9.5" cy="-25.4" r="5.6"/><circle cx="19.3" cy="-23.4" r="5.6"/><circle cx="28.9" cy="-19.6" r="5.6"/><circle cx="35.3" cy="-15.5" r="5.6"/><circle cx="40.4" cy="-10.3" r="5.6"/><circle cx="42.9" cy="-5.7" r="5.6"/><circle cx="39.8" cy="2.1" r="5"/><circle cx="37.9" cy="6.7" r="5"/><circle cx="34" cy="11" r="5"/><circle cx="27.8" cy="15.1" r="5"/><circle cx="20.7" cy="18" r="5"/><circle cx="11.3" cy="20.1" r="5"/><circle cx="0.1" cy="21" r="5"/><circle cx="-9.4" cy="20.4" r="5"/><circle cx="-17.6" cy="18.8" r="5"/><circle cx="-25.4" cy="16.2" r="5"/><circle cx="-31.8" cy="12.7" r="5"/><circle cx="-36.4" cy="8.7" r="5"/><circle cx="-39.4" cy="3.6" r="5"/><circle cx="-39.8" cy="-2.2" r="5"/><circle cx="-37.5" cy="-7.3" r="5"/><circle cx="-33.9" cy="-11.1" r="5"/><circle cx="-27" cy="-15.5" r="5"/><circle cx="-19.2" cy="-18.4" r="5"/><circle cx="-10.4" cy="-20.3" r="5"/><circle cx="-1" cy="-21" r="5"/><circle cx="8.9" cy="-20.5" r="5"/><circle cx="17" cy="-19" r="5"/><circle cx="25.9" cy="-16" r="5"/><circle cx="31.7" cy="-12.8" r="5"/><circle cx="36.9" cy="-8.2" r="5"/><circle cx="39.6" cy="-2.9" r="5"/></g><g fill="#1c1412"><ellipse cx="61.3" cy="3.9" rx="2.7" ry="3.1"/><ellipse cx="58.2" cy="14.6" rx="2.7" ry="3.1"/><ellipse cx="51.8" cy="24.5" rx="2.7" ry="3.1"/><ellipse cx="42.3" cy="32.9" rx="2.7" ry="3.1"/><ellipse cx="30.4" cy="39.4" rx="2.7" ry="3.1"/><ellipse cx="16.7" cy="43.6" rx="2.7" ry="3.1"/><ellipse cx="2.1" cy="45.3" rx="2.7" ry="3.1"/><ellipse cx="-12.7" cy="44.3" rx="2.7" ry="3.1"/><ellipse cx="-26.7" cy="40.8" rx="2.7" ry="3.1"/><ellipse cx="-39.2" cy="34.9" rx="2.7" ry="3.1"/><ellipse cx="-49.4" cy="27" rx="2.7" ry="3.1"/><ellipse cx="-56.7" cy="17.5" rx="2.7" ry="3.1"/><ellipse cx="-60.8" cy="7" rx="2.7" ry="3.1"/><ellipse cx="-61.3" cy="-3.9" rx="2.7" ry="3.1"/><ellipse cx="-58.2" cy="-14.6" rx="2.7" ry="3.1"/><ellipse cx="-51.8" cy="-24.5" rx="2.7" ry="3.1"/><ellipse cx="-42.3" cy="-32.9" rx="2.7" ry="3.1"/><ellipse cx="-30.4" cy="-39.4" rx="2.7" ry="3.1"/><ellipse cx="-16.7" cy="-43.6" rx="2.7" ry="3.1"/><ellipse cx="-2.1" cy="-45.3" rx="2.7" ry="3.1"/><ellipse cx="12.7" cy="-44.3" rx="2.7" ry="3.1"/><ellipse cx="26.7" cy="-40.8" rx="2.7" ry="3.1"/><ellipse cx="39.2" cy="-34.9" rx="2.7" ry="3.1"/><ellipse cx="49.4" cy="-27" rx="2.7" ry="3.1"/><ellipse cx="56.7" cy="-17.5" rx="2.7" ry="3.1"/><ellipse cx="60.8" cy="-7" rx="2.7" ry="3.1"/><ellipse cx="43.5" cy="0" rx="2.3" ry="2.6"/><ellipse cx="42.2" cy="6" rx="2.3" ry="2.6"/><ellipse cx="38.5" cy="11.6" rx="2.3" ry="2.6"/><ellipse cx="32.6" cy="16.6" rx="2.3" ry="2.6"/><ellipse cx="24.7" cy="20.6" rx="2.3" ry="2.6"/><ellipse cx="15.4" cy="23.4" rx="2.3" ry="2.6"/><ellipse cx="5.2" cy="24.8" rx="2.3" ry="2.6"/><ellipse cx="-5.2" cy="24.8" rx="2.3" ry="2.6"/><ellipse cx="-15.4" cy="23.4" rx="2.3" ry="2.6"/><ellipse cx="-24.7" cy="20.6" rx="2.3" ry="2.6"/><ellipse cx="-32.6" cy="16.6" rx="2.3" ry="2.6"/><ellipse cx="-38.5" cy="11.6" rx="2.3" ry="2.6"/><ellipse cx="-42.2" cy="6" rx="2.3" ry="2.6"/><ellipse cx="-43.5" cy="0" rx="2.3" ry="2.6"/><ellipse cx="-42.2" cy="-6" rx="2.3" ry="2.6"/><ellipse cx="-38.5" cy="-11.6" rx="2.3" ry="2.6"/><ellipse cx="-32.6" cy="-16.6" rx="2.3" ry="2.6"/><ellipse cx="-24.7" cy="-20.6" rx="2.3" ry="2.6"/><ellipse cx="-15.4" cy="-23.4" rx="2.3" ry="2.6"/><ellipse cx="-5.2" cy="-24.8" rx="2.3" ry="2.6"/><ellipse cx="5.2" cy="-24.8" rx="2.3" ry="2.6"/><ellipse cx="15.4" cy="-23.4" rx="2.3" ry="2.6"/><ellipse cx="24.7" cy="-20.6" rx="2.3" ry="2.6"/><ellipse cx="32.6" cy="-16.6" rx="2.3" ry="2.6"/><ellipse cx="38.5" cy="-11.6" rx="2.3" ry="2.6"/><ellipse cx="42.2" cy="-6" rx="2.3" ry="2.6"/></g></g><ellipse cx="1143.1" cy="605.5" rx="34.5" ry="14.4" fill="url(#gs)"/><g transform="translate(1157.8 554.1) rotate(4)"><ellipse cx="-8.4" cy="0" rx="1.3" ry="2.8" fill="#55b6ee"/><ellipse cx="-4.2" cy="0" rx="1.3" ry="2.8" fill="#55b6ee"/><ellipse cx="0" cy="0" rx="1.3" ry="2.8" fill="#55b6ee"/><ellipse cx="4.2" cy="0" rx="1.3" ry="2.8" fill="#55b6ee"/><ellipse cx="8.4" cy="0" rx="1.3" ry="2.8" fill="#55b6ee"/><path d="M-13 -3.7 L-10.5 0 Q-8.4 -7.4 -6.3 0 Q-4.2 7.4 -2.1 0 Q0 -7.4 2.1 0 Q4.2 7.4 6.3 0 Q8.4 -7.4 10.5 0 L13 -3.7M-13 3.7 L-10.5 0 Q-8.4 7.4 -6.3 0 Q-4.2 -7.4 -2.1 0 Q0 7.4 2.1 0 Q4.2 -7.4 6.3 0 Q8.4 7.4 10.5 0 L13 3.7" fill="none" stroke="#e0281c" stroke-width="1.0" stroke-linecap="round"/></g><g transform="translate(1212.3 598.9) rotate(80)"><ellipse cx="-8.4" cy="0" rx="1.3" ry="2.8" fill="#55b6ee"/><ellipse cx="-4.2" cy="0" rx="1.3" ry="2.8" fill="#55b6ee"/><ellipse cx="0" cy="0" rx="1.3" ry="2.8" fill="#55b6ee"/><ellipse cx="4.2" cy="0" rx="1.3" ry="2.8" fill="#55b6ee"/><ellipse cx="8.4" cy="0" rx="1.3" ry="2.8" fill="#55b6ee"/><path d="M-13 -3.7 L-10.5 0 Q-8.4 -7.4 -6.3 0 Q-4.2 7.4 -2.1 0 Q0 -7.4 2.1 0 Q4.2 7.4 6.3 0 Q8.4 -7.4 10.5 0 L13 -3.7M-13 3.7 L-10.5 0 Q-8.4 7.4 -6.3 0 Q-4.2 -7.4 -2.1 0 Q0 7.4 2.1 0 Q4.2 -7.4 6.3 0 Q8.4 7.4 10.5 0 L13 3.7" fill="none" stroke="#e0281c" stroke-width="1.0" stroke-linecap="round"/></g><g transform="translate(1191.5 647.8) rotate(-30)"><ellipse cx="-8.4" cy="0" rx="1.3" ry="2.8" fill="#55b6ee"/><ellipse cx="-4.2" cy="0" rx="1.3" ry="2.8" fill="#55b6ee"/><ellipse cx="0" cy="0" rx="1.3" ry="2.8" fill="#55b6ee"/><ellipse cx="4.2" cy="0" rx="1.3" ry="2.8" fill="#55b6ee"/><ellipse cx="8.4" cy="0" rx="1.3" ry="2.8" fill="#55b6ee"/><path d="M-13 -3.7 L-10.5 0 Q-8.4 -7.4 -6.3 0 Q-4.2 7.4 -2.1 0 Q0 -7.4 2.1 0 Q4.2 7.4 6.3 0 Q8.4 -7.4 10.5 0 L13 -3.7M-13 3.7 L-10.5 0 Q-8.4 7.4 -6.3 0 Q-4.2 -7.4 -2.1 0 Q0 7.4 2.1 0 Q4.2 -7.4 6.3 0 Q8.4 7.4 10.5 0 L13 3.7" fill="none" stroke="#e0281c" stroke-width="1.0" stroke-linecap="round"/></g><g transform="translate(1143.7 659.9) rotate(0)"><ellipse cx="-8.4" cy="0" rx="1.3" ry="2.8" fill="#55b6ee"/><ellipse cx="-4.2" cy="0" rx="1.3" ry="2.8" fill="#55b6ee"/><ellipse cx="0" cy="0" rx="1.3" ry="2.8" fill="#55b6ee"/><ellipse cx="4.2" cy="0" rx="1.3" ry="2.8" fill="#55b6ee"/><ellipse cx="8.4" cy="0" rx="1.3" ry="2.8" fill="#55b6ee"/><path d="M-13 -3.7 L-10.5 0 Q-8.4 -7.4 -6.3 0 Q-4.2 7.4 -2.1 0 Q0 -7.4 2.1 0 Q4.2 7.4 6.3 0 Q8.4 -7.4 10.5 0 L13 -3.7M-13 3.7 L-10.5 0 Q-8.4 7.4 -6.3 0 Q-4.2 -7.4 -2.1 0 Q0 7.4 2.1 0 Q4.2 -7.4 6.3 0 Q8.4 7.4 10.5 0 L13 3.7" fill="none" stroke="#e0281c" stroke-width="1.0" stroke-linecap="round"/></g><g transform="translate(1095.1 645.8) rotate(35)"><ellipse cx="-8.4" cy="0" rx="1.3" ry="2.8" fill="#55b6ee"/><ellipse cx="-4.2" cy="0" rx="1.3" ry="2.8" fill="#55b6ee"/><ellipse cx="0" cy="0" rx="1.3" ry="2.8" fill="#55b6ee"/><ellipse cx="4.2" cy="0" rx="1.3" ry="2.8" fill="#55b6ee"/><ellipse cx="8.4" cy="0" rx="1.3" ry="2.8" fill="#55b6ee"/><path d="M-13 -3.7 L-10.5 0 Q-8.4 -7.4 -6.3 0 Q-4.2 7.4 -2.1 0 Q0 -7.4 2.1 0 Q4.2 7.4 6.3 0 Q8.4 -7.4 10.5 0 L13 -3.7M-13 3.7 L-10.5 0 Q-8.4 7.4 -6.3 0 Q-4.2 -7.4 -2.1 0 Q0 7.4 2.1 0 Q4.2 -7.4 6.3 0 Q8.4 7.4 10.5 0 L13 3.7" fill="none" stroke="#e0281c" stroke-width="1.0" stroke-linecap="round"/></g><g transform="translate(1071.8 610.6) rotate(84)"><ellipse cx="-8.4" cy="0" rx="1.3" ry="2.8" fill="#55b6ee"/><ellipse cx="-4.2" cy="0" rx="1.3" ry="2.8" fill="#55b6ee"/><ellipse cx="0" cy="0" rx="1.3" ry="2.8" fill="#55b6ee"/><ellipse cx="4.2" cy="0" rx="1.3" ry="2.8" fill="#55b6ee"/><ellipse cx="8.4" cy="0" rx="1.3" ry="2.8" fill="#55b6ee"/><path d="M-13 -3.7 L-10.5 0 Q-8.4 -7.4 -6.3 0 Q-4.2 7.4 -2.1 0 Q0 -7.4 2.1 0 Q4.2 7.4 6.3 0 Q8.4 -7.4 10.5 0 L13 -3.7M-13 3.7 L-10.5 0 Q-8.4 7.4 -6.3 0 Q-4.2 -7.4 -2.1 0 Q0 7.4 2.1 0 Q4.2 -7.4 6.3 0 Q8.4 7.4 10.5 0 L13 3.7" fill="none" stroke="#e0281c" stroke-width="1.0" stroke-linecap="round"/></g><g transform="translate(1088.8 567.2) rotate(-32)"><ellipse cx="-8.4" cy="0" rx="1.3" ry="2.8" fill="#55b6ee"/><ellipse cx="-4.2" cy="0" rx="1.3" ry="2.8" fill="#55b6ee"/><ellipse cx="0" cy="0" rx="1.3" ry="2.8" fill="#55b6ee"/><ellipse cx="4.2" cy="0" rx="1.3" ry="2.8" fill="#55b6ee"/><ellipse cx="8.4" cy="0" rx="1.3" ry="2.8" fill="#55b6ee"/><path d="M-13 -3.7 L-10.5 0 Q-8.4 -7.4 -6.3 0 Q-4.2 7.4 -2.1 0 Q0 -7.4 2.1 0 Q4.2 7.4 6.3 0 Q8.4 -7.4 10.5 0 L13 -3.7M-13 3.7 L-10.5 0 Q-8.4 7.4 -6.3 0 Q-4.2 -7.4 -2.1 0 Q0 7.4 2.1 0 Q4.2 -7.4 6.3 0 Q8.4 7.4 10.5 0 L13 3.7" fill="none" stroke="#e0281c" stroke-width="1.0" stroke-linecap="round"/></g><path transform="translate(194.4 857) rotate(-104.8)" d="M0 0L33.3 0M11.1 0c-2.5 -5 3.5 -7.5 5.5 -3.5c0.5 3 -3 4 -5.5 3.5M11.1 0c-3.5 4 1.5 8.5 5 5.5c2 -3 -1.5 -5.5 -5 -5.5M16.7 0c0 -6 9 -7 10.5 -1.5c1 5 -7 7 -9 2.5c-1.5 -4 5 -6 6.5 -2.5c0.8 2.5 -2.5 3.5 -4 1.5M18.9 1c1 4 6 5 8 2" fill="none" stroke="#777" stroke-width="0.85"/><path transform="translate(256 893) rotate(-23.2)" d="M0 0L36.1 0M12 0c-2.5 -5 3.5 -7.5 5.5 -3.5c0.5 3 -3 4 -5.5 3.5M12 0c-3.5 4 1.5 8.5 5 5.5c2 -3 -1.5 -5.5 -5 -5.5M18.1 0c0 -6 9 -7 10.5 -1.5c1 5 -7 7 -9 2.5c-1.5 -4 5 -6 6.5 -2.5c0.8 2.5 -2.5 3.5 -4 1.5M20.5 1c1 4 6 5 8 2" fill="none" stroke="#777" stroke-width="0.85"/><path transform="translate(251.3 952.7) rotate(32)" d="M0 0L35.8 0M11.9 0c-2.5 -5 3.5 -7.5 5.5 -3.5c0.5 3 -3 4 -5.5 3.5M11.9 0c-3.5 4 1.5 8.5 5 5.5c2 -3 -1.5 -5.5 -5 -5.5M17.9 0c0 -6 9 -7 10.5 -1.5c1 5 -7 7 -9 2.5c-1.5 -4 5 -6 6.5 -2.5c0.8 2.5 -2.5 3.5 -4 1.5M20.3 1c1 4 6 5 8 2" fill="none" stroke="#777" stroke-width="0.85"/><path transform="translate(217.1 977.4) rotate(49.4)" d="M0 0L35 0M11.7 0c-2.5 -5 3.5 -7.5 5.5 -3.5c0.5 3 -3 4 -5.5 3.5M11.7 0c-3.5 4 1.5 8.5 5 5.5c2 -3 -1.5 -5.5 -5 -5.5M17.5 0c0 -6 9 -7 10.5 -1.5c1 5 -7 7 -9 2.5c-1.5 -4 5 -6 6.5 -2.5c0.8 2.5 -2.5 3.5 -4 1.5M19.8 1c1 4 6 5 8 2" fill="none" stroke="#777" stroke-width="0.85"/><path transform="translate(157.4 964.1) rotate(124.6)" d="M0 0L33.4 0M11.1 0c-2.5 -5 3.5 -7.5 5.5 -3.5c0.5 3 -3 4 -5.5 3.5M11.1 0c-3.5 4 1.5 8.5 5 5.5c2 -3 -1.5 -5.5 -5 -5.5M16.7 0c0 -6 9 -7 10.5 -1.5c1 5 -7 7 -9 2.5c-1.5 -4 5 -6 6.5 -2.5c0.8 2.5 -2.5 3.5 -4 1.5M18.9 1c1 4 6 5 8 2" fill="none" stroke="#777" stroke-width="0.85"/><path transform="translate(144.1 892.1) rotate(-154.2)" d="M0 0L32.6 0M10.9 0c-2.5 -5 3.5 -7.5 5.5 -3.5c0.5 3 -3 4 -5.5 3.5M10.9 0c-3.5 4 1.5 8.5 5 5.5c2 -3 -1.5 -5.5 -5 -5.5M16.3 0c0 -6 9 -7 10.5 -1.5c1 5 -7 7 -9 2.5c-1.5 -4 5 -6 6.5 -2.5c0.8 2.5 -2.5 3.5 -4 1.5M18.5 1c1 4 6 5 8 2" fill="none" stroke="#777" stroke-width="0.85"/><g transform="translate(201.9 918.5)"><use href="#lp9" transform="rotate(-125.9)"/><use href="#lp9" transform="rotate(-116)"/><use href="#lp9" transform="rotate(-106.1)"/><use href="#lp9" transform="rotate(-96.2)"/><use href="#lp9" transform="rotate(-75.3)"/><use href="#lp9" transform="rotate(-65.4)"/><use href="#lp9" transform="rotate(-55.5)"/><use href="#lp9" transform="rotate(-45.6)"/><use href="#lp9" transform="rotate(-24.6)"/><use href="#lp9" transform="rotate(-14.8)"/><use href="#lp9" transform="rotate(-4.8)"/><use href="#lp9" transform="rotate(5.1)"/><use href="#lp9" transform="rotate(15)"/><use href="#lp9" transform="rotate(35.8)"/><use href="#lp9" transform="rotate(45.7)"/><use href="#lp9" transform="rotate(55.6)"/><use href="#lp9" transform="rotate(65.5)"/><use href="#lp9" transform="rotate(75.4)"/><use href="#lp9" transform="rotate(96.7)"/><use href="#lp9" transform="rotate(106.5)"/><use href="#lp9" transform="rotate(116.5)"/><use href="#lp9" transform="rotate(126.4)"/><use href="#lp9" transform="rotate(136.2)"/><use href="#lp9" transform="rotate(156.1)"/><use href="#lp9" transform="rotate(165.7)"/><use href="#lp9" transform="rotate(175.3)"/><use href="#lp9" transform="rotate(194.2)"/><use href="#lp9" transform="rotate(204.1)"/><use href="#lp9" transform="rotate(214)"/><ellipse cx="-39.2" cy="-37.6" rx="9.8" ry="3.7" fill="#e5342a" transform="rotate(-136.2 -39.2 -37.6)"/><ellipse cx="3.9" cy="-54.2" rx="9.8" ry="3.7" fill="#e5342a" transform="rotate(-85.9 3.9 -54.2)"/><ellipse cx="44.5" cy="-31.1" rx="9.8" ry="3.7" fill="#e5342a" transform="rotate(-35 44.5 -31.1)"/><ellipse cx="49.1" cy="23.2" rx="9.8" ry="3.7" fill="#e5342a" transform="rotate(25.3 49.1 23.2)"/><ellipse cx="3.9" cy="54.2" rx="9.8" ry="3.7" fill="#e5342a" transform="rotate(85.9 3.9 54.2)"/><ellipse cx="-45.5" cy="29.6" rx="9.8" ry="3.7" fill="#e5342a" transform="rotate(147 -45.5 29.6)"/><ellipse cx="-54.1" cy="-4.2" rx="9.8" ry="3.7" fill="#e5342a" transform="rotate(184.4 -54.1 -4.2)"/></g><circle cx="201.9" cy="918.5" r="45" fill="url(#gs)"/><circle cx="185.8" cy="883.5" r="7.5" fill="url(#dk)"/><circle cx="204.2" cy="880.7" r="7.5" fill="url(#dk)"/><circle cx="219.6" cy="885.4" r="7.5" fill="url(#dk)"/><circle cx="234.6" cy="892.4" r="7.5" fill="url(#dk)"/><circle cx="240.3" cy="914.2" r="7.5" fill="url(#dk)"/><circle cx="234.8" cy="934.7" r="7.5" fill="url(#dk)"/><circle cx="219" cy="952.2" r="7.5" fill="url(#dk)"/><circle cx="194" cy="955.9" r="7.5" fill="url(#dk)"/><circle cx="178.3" cy="949.9" r="7.5" fill="url(#dk)"/><circle cx="166.3" cy="934.3" r="7.5" fill="url(#dk)"/><circle cx="163.5" cy="915.8" r="7.5" fill="url(#dk)"/><circle cx="170.7" cy="895.8" r="7.5" fill="url(#dk)"/><circle cx="340.3" cy="892" r="7.8" fill="url(#dk)"/><ellipse cx="340.3" cy="942.3" rx="18" ry="6.6" fill="#e5342a"/><text transform="translate(340.3 967.6) scale(1.11 1)" font-size="14.3" text-anchor="middle">DOX</text><g transform="translate(646.5 899.4)"><path d="M56.9 -3.6L52.4 3.4M52.4 3.4L52.5 9.4M52.4 3.4L47.9 -3M47.9 -3L47.3 -8.4M47.9 -3L43.9 2.9M43.9 2.9L42.7 7.7M43.9 2.9L40.4 -2.4M56.1 10.1L50 16M50 16L47.1 21.2M50 16L47.4 7.7M47.4 7.7L47.1 2.3M47.4 7.7L41.9 13.4M41.9 13.4L40.5 18.2M41.9 13.4L40.1 6M51.8 23.7L44.7 27.5M44.7 27.5L41.6 32.6M44.7 27.5L44 19.2M44 19.2L45.2 13.8M44 19.2L38.6 21.1M38.6 21.1L36 25.4M38.6 21.1L37.6 15.1M46.4 33.2L38.6 35.6M38.6 35.6L33.7 39M38.6 35.6L38.6 28.5M38.6 28.5L41.5 23.9M38.6 28.5L31.4 30.9M31.4 30.9L27.7 34.2M31.4 30.9L32.4 24.3M36.8 43.6L28.3 44.2M28.3 44.2L23.1 47M28.3 44.2L31.4 36.3M31.4 36.3L36 33.2M31.4 36.3L23.1 37.4M23.1 37.4L19 40.4M23.1 37.4L25.8 31.2M26.2 50.6L18.5 49.1M18.5 49.1L12.7 50.5M18.5 49.1L22.6 42.3M22.6 42.3L27.6 39.9M22.6 42.3L15.1 41.3M15.1 41.3L10.5 43.4M15.1 41.3L18.5 36M12 55.7L5 52.3M5 52.3L-0.9 51.5M5 52.3L11.9 46.5M11.9 46.5L17.4 45.6M11.9 46.5L5 43.7M5 43.7L0.1 45M5 43.7L9.7 39.3M1.4 57L-6.6 52.1M-6.6 52.1L-12.6 51.5M-6.6 52.1L0.7 48M0.7 48L6 46.8M0.7 48L-4.9 43.7M-4.9 43.7L-10 43.8M-4.9 43.7L-0.4 40.5M-11.9 55.8L-17.4 49.5M-17.4 49.5L-22.6 46.5M-17.4 49.5L-9.9 47M-9.9 47L-4.5 48.4M-9.9 47L-14.5 41.6M-14.5 41.6L-19.1 39.8M-14.5 41.6L-9.1 39.5M-24.6 51.4L-29.5 43.4M-29.5 43.4L-33.8 39.2M-29.5 43.4L-21.7 42.8M-21.7 42.8L-16.5 44.3M-21.7 42.8L-24.1 36.8M-24.1 36.8L-27.8 33.4M-24.1 36.8L-17.6 36.5M-37.6 42.9L-38.9 35.3M-38.9 35.3L-42.3 30.4M-38.9 35.3L-31.5 36.2M-31.5 36.2L-26.9 39.1M-31.5 36.2L-31.9 30.3M-31.9 30.3L-35.7 26.9M-31.9 30.3L-26.2 30.9M-44.9 35.1L-46.2 24.9M-46.2 24.9L-48.2 19.3M-46.2 24.9L-38.1 29.3M-38.1 29.3L-34.9 33.8M-38.1 29.3L-38 22.2M-38 22.2L-39.9 17.6M-38 22.2L-31.9 25M-51.8 23.8L-50.4 14.7M-50.4 14.7L-51.2 8.8M-50.4 14.7L-44.1 18.9M-44.1 18.9L-41.5 23.7M-44.1 18.9L-42.2 12.6M-42.2 12.6L-44.2 7.9M-42.2 12.6L-37.1 16.2M-56.1 9.8L-52.5 1.9M-52.5 1.9L-51.7 -4M-52.5 1.9L-47.1 9.3M-47.1 9.3L-46.5 14.8M-47.1 9.3L-44 1.7M-44 1.7L-43.4 -3.3M-44 1.7L-39.7 7.8M-56.9 -3.9L-51.4 -10.5M-51.4 -10.5L-49.4 -16M-51.4 -10.5L-47.9 -3.8M-47.9 -3.8L-48.7 1.7M-47.9 -3.8L-43.3 -8M-43.3 -8L-41.9 -12.8M-43.3 -8L-40.5 -1.4M-55 -14.9L-47.6 -22.1M-47.6 -22.1L-44.4 -27.1M-47.6 -22.1L-45.9 -14.1M-45.9 -14.1L-46.7 -8.8M-45.9 -14.1L-40 -18.2M-40 -18.2L-37.9 -22.7M-40 -18.2L-39 -11.1M-49.9 -27.5L-41.7 -32M-41.7 -32L-37.1 -35.9M-41.7 -32L-42 -23.3M-42 -23.3L-44.4 -18.4M-42 -23.3L-34.7 -27M-34.7 -27L-31.6 -30.9M-34.7 -27L-35.4 -19.7M-40.7 -39.9L-34.3 -39.8M-34.3 -39.8L-29 -42.6M-34.3 -39.8L-35.4 -32.4M-35.4 -32.4L-38.8 -28.1M-35.4 -32.4L-29 -33.1M-29 -33.1L-24.6 -35.7M-29 -33.1L-29.7 -27.5M-31.3 -47.7L-24.3 -46.5M-24.3 -46.5L-18.8 -48.7M-24.3 -46.5L-25.7 -40.6M-25.7 -40.6L-30.7 -38.1M-25.7 -40.6L-19.3 -39.5M-19.3 -39.5L-14.8 -41.8M-19.3 -39.5L-22.2 -33.9M-20.7 -53.1L-13.2 -50.8M-13.2 -50.8L-7.2 -51M-13.2 -50.8L-15.6 -45.4M-15.6 -45.4L-20.8 -43.7M-15.6 -45.4L-9 -43.1M-9 -43.1L-4 -42.9M-9 -43.1L-13.7 -38.1M-6.8 -56.6L0.8 -52.5M0.8 -52.5L6.7 -51.7M0.8 -52.5L-4.5 -47.8M-4.5 -47.8L-9.7 -46.1M-4.5 -47.8L0.2 -44M0.2 -44L5.3 -44.2M0.2 -44L-4 -40.3M7.2 -56.5L12.8 -50.9M12.8 -50.9L18.7 -49.7M12.8 -50.9L6.5 -47.6M6.5 -47.6L1 -47.7M6.5 -47.6L10.7 -42.7M10.7 -42.7L15.7 -41.9M10.7 -42.7L5.4 -40.1M19.1 -53.7L24.4 -46.5M24.4 -46.5L29.9 -44M24.4 -46.5L16.5 -45.1M16.5 -45.1L11.3 -46.9M16.5 -45.1L19.6 -39.4M19.6 -39.4L24 -37M19.6 -39.4L14 -38M30.1 -48.4L34.2 -39.9M34.2 -39.9L39.2 -36.4M34.2 -39.9L27.1 -39.6M27.1 -39.6L22.6 -42.9M27.1 -39.6L28.2 -33.8M28.2 -33.8L32.2 -30.7M28.2 -33.8L22.3 -33.8M41.2 -39.4L42.7 -30.5M42.7 -30.5L45.2 -25M42.7 -30.5L35.2 -32.6M35.2 -32.6L30.7 -35.7M35.2 -32.6L35.5 -26M35.5 -26L38.2 -21.8M35.5 -26L29 -28.3M49.6 -28.1L48.3 -20.7M48.3 -20.7L50.5 -15.1M48.3 -20.7L42 -23.2M42 -23.2L38.7 -27.5M42 -23.2L40 -18.3M40 -18.3L41.4 -13.6M40 -18.3L35.2 -20M54.3 -17.4L51.6 -9.9M51.6 -9.9L53.2 -4M51.6 -9.9L46.1 -13.5M46.1 -13.5L44.1 -18.6M46.1 -13.5L43.5 -6.6M43.5 -6.6L43.6 -1.6M43.5 -6.6L38.9 -11.4" stroke="#1bab6c" stroke-width="1.45" fill="none"/><g fill="#1bab6c"><circle cx="56.9" cy="-3.6" r="2.4"/><circle cx="52.4" cy="3.4" r="2.4"/><circle cx="52.5" cy="9.4" r="2.2"/><circle cx="47.9" cy="-3" r="2.4"/><circle cx="47.3" cy="-8.4" r="2.2"/><circle cx="43.9" cy="2.9" r="2.4"/><circle cx="42.7" cy="7.7" r="2.2"/><circle cx="40.4" cy="-2.4" r="2"/><circle cx="56.1" cy="10.1" r="2.4"/><circle cx="50" cy="16" r="2.4"/><circle cx="47.1" cy="21.2" r="2.2"/><circle cx="47.4" cy="7.7" r="2.4"/><circle cx="47.1" cy="2.3" r="2.2"/><circle cx="41.9" cy="13.4" r="2.4"/><circle cx="40.5" cy="18.2" r="2.2"/><circle cx="40.1" cy="6" r="2"/><circle cx="51.8" cy="23.7" r="2.4"/><circle cx="44.7" cy="27.5" r="2.4"/><circle cx="41.6" cy="32.6" r="2.2"/><circle cx="44" cy="19.2" r="2.4"/><circle cx="45.2" cy="13.8" r="2.2"/><circle cx="38.6" cy="21.1" r="2.4"/><circle cx="36" cy="25.4" r="2.2"/><circle cx="37.6" cy="15.1" r="2"/><circle cx="46.4" cy="33.2" r="2.4"/><circle cx="38.6" cy="35.6" r="2.4"/><circle cx="33.7" cy="39" r="2.2"/><circle cx="38.6" cy="28.5" r="2.4"/><circle cx="41.5" cy="23.9" r="2.2"/><circle cx="31.4" cy="30.9" r="2.4"/><circle cx="27.7" cy="34.2" r="2.2"/><circle cx="32.4" cy="24.3" r="2"/><circle cx="36.8" cy="43.6" r="2.4"/><circle cx="28.3" cy="44.2" r="2.4"/><circle cx="23.1" cy="47" r="2.2"/><circle cx="31.4" cy="36.3" r="2.4"/><circle cx="36" cy="33.2" r="2.2"/><circle cx="23.1" cy="37.4" r="2.4"/><circle cx="19" cy="40.4" r="2.2"/><circle cx="25.8" cy="31.2" r="2"/><circle cx="26.2" cy="50.6" r="2.4"/><circle cx="18.5" cy="49.1" r="2.4"/><circle cx="12.7" cy="50.5" r="2.2"/><circle cx="22.6" cy="42.3" r="2.4"/><circle cx="27.6" cy="39.9" r="2.2"/><circle cx="15.1" cy="41.3" r="2.4"/><circle cx="10.5" cy="43.4" r="2.2"/><circle cx="18.5" cy="36" r="2"/><circle cx="12" cy="55.7" r="2.4"/><circle cx="5" cy="52.3" r="2.4"/><circle cx="-0.9" cy="51.5" r="2.2"/><circle cx="11.9" cy="46.5" r="2.4"/><circle cx="17.4" cy="45.6" r="2.2"/><circle cx="5" cy="43.7" r="2.4"/><circle cx="0.1" cy="45" r="2.2"/><circle cx="9.7" cy="39.3" r="2"/><circle cx="1.4" cy="57" r="2.4"/><circle cx="-6.6" cy="52.1" r="2.4"/><circle cx="-12.6" cy="51.5" r="2.2"/><circle cx="0.7" cy="48" r="2.4"/><circle cx="6" cy="46.8" r="2.2"/><circle cx="-4.9" cy="43.7" r="2.4"/><circle cx="-10" cy="43.8" r="2.2"/><circle cx="-0.4" cy="40.5" r="2"/><circle cx="-11.9" cy="55.8" r="2.4"/><circle cx="-17.4" cy="49.5" r="2.4"/><circle cx="-22.6" cy="46.5" r="2.2"/><circle cx="-9.9" cy="47" r="2.4"/><circle cx="-4.5" cy="48.4" r="2.2"/><circle cx="-14.5" cy="41.6" r="2.4"/><circle cx="-19.1" cy="39.8" r="2.2"/><circle cx="-9.1" cy="39.5" r="2"/><circle cx="-24.6" cy="51.4" r="2.4"/><circle cx="-29.5" cy="43.4" r="2.4"/><circle cx="-33.8" cy="39.2" r="2.2"/><circle cx="-21.7" cy="42.8" r="2.4"/><circle cx="-16.5" cy="44.3" r="2.2"/><circle cx="-24.1" cy="36.8" r="2.4"/><circle cx="-27.8" cy="33.4" r="2.2"/><circle cx="-17.6" cy="36.5" r="2"/><circle cx="-37.6" cy="42.9" r="2.4"/><circle cx="-38.9" cy="35.3" r="2.4"/><circle cx="-42.3" cy="30.4" r="2.2"/><circle cx="-31.5" cy="36.2" r="2.4"/><circle cx="-26.9" cy="39.1" r="2.2"/><circle cx="-31.9" cy="30.3" r="2.4"/><circle cx="-35.7" cy="26.9" r="2.2"/><circle cx="-26.2" cy="30.9" r="2"/><circle cx="-44.9" cy="35.1" r="2.4"/><circle cx="-46.2" cy="24.9" r="2.4"/><circle cx="-48.2" cy="19.3" r="2.2"/><circle cx="-38.1" cy="29.3" r="2.4"/><circle cx="-34.9" cy="33.8" r="2.2"/><circle cx="-38" cy="22.2" r="2.4"/><circle cx="-39.9" cy="17.6" r="2.2"/><circle cx="-31.9" cy="25" r="2"/><circle cx="-51.8" cy="23.8" r="2.4"/><circle cx="-50.4" cy="14.7" r="2.4"/><circle cx="-51.2" cy="8.8" r="2.2"/><circle cx="-44.1" cy="18.9" r="2.4"/><circle cx="-41.5" cy="23.7" r="2.2"/><circle cx="-42.2" cy="12.6" r="2.4"/><circle cx="-44.2" cy="7.9" r="2.2"/><circle cx="-37.1" cy="16.2" r="2"/><circle cx="-56.1" cy="9.8" r="2.4"/><circle cx="-52.5" cy="1.9" r="2.4"/><circle cx="-51.7" cy="-4" r="2.2"/><circle cx="-47.1" cy="9.3" r="2.4"/><circle cx="-46.5" cy="14.8" r="2.2"/><circle cx="-44" cy="1.7" r="2.4"/><circle cx="-43.4" cy="-3.3" r="2.2"/><circle cx="-39.7" cy="7.8" r="2"/><circle cx="-56.9" cy="-3.9" r="2.4"/><circle cx="-51.4" cy="-10.5" r="2.4"/><circle cx="-49.4" cy="-16" r="2.2"/><circle cx="-47.9" cy="-3.8" r="2.4"/><circle cx="-48.7" cy="1.7" r="2.2"/><circle cx="-43.3" cy="-8" r="2.4"/><circle cx="-41.9" cy="-12.8" r="2.2"/><circle cx="-40.5" cy="-1.4" r="2"/><circle cx="-55" cy="-14.9" r="2.4"/><circle cx="-47.6" cy="-22.1" r="2.4"/><circle cx="-44.4" cy="-27.1" r="2.2"/><circle cx="-45.9" cy="-14.1" r="2.4"/><circle cx="-46.7" cy="-8.8" r="2.2"/><circle cx="-40" cy="-18.2" r="2.4"/><circle cx="-37.9" cy="-22.7" r="2.2"/><circle cx="-39" cy="-11.1" r="2"/><circle cx="-49.9" cy="-27.5" r="2.4"/><circle cx="-41.7" cy="-32" r="2.4"/><circle cx="-37.1" cy="-35.9" r="2.2"/><circle cx="-42" cy="-23.3" r="2.4"/><circle cx="-44.4" cy="-18.4" r="2.2"/><circle cx="-34.7" cy="-27" r="2.4"/><circle cx="-31.6" cy="-30.9" r="2.2"/><circle cx="-35.4" cy="-19.7" r="2"/><circle cx="-40.7" cy="-39.9" r="2.4"/><circle cx="-34.3" cy="-39.8" r="2.4"/><circle cx="-29" cy="-42.6" r="2.2"/><circle cx="-35.4" cy="-32.4" r="2.4"/><circle cx="-38.8" cy="-28.1" r="2.2"/><circle cx="-29" cy="-33.1" r="2.4"/><circle cx="-24.6" cy="-35.7" r="2.2"/><circle cx="-29.7" cy="-27.5" r="2"/><circle cx="-31.3" cy="-47.7" r="2.4"/><circle cx="-24.3" cy="-46.5" r="2.4"/><circle cx="-18.8" cy="-48.7" r="2.2"/><circle cx="-25.7" cy="-40.6" r="2.4"/><circle cx="-30.7" cy="-38.1" r="2.2"/><circle cx="-19.3" cy="-39.5" r="2.4"/><circle cx="-14.8" cy="-41.8" r="2.2"/><circle cx="-22.2" cy="-33.9" r="2"/><circle cx="-20.7" cy="-53.1" r="2.4"/><circle cx="-13.2" cy="-50.8" r="2.4"/><circle cx="-7.2" cy="-51" r="2.2"/><circle cx="-15.6" cy="-45.4" r="2.4"/><circle cx="-20.8" cy="-43.7" r="2.2"/><circle cx="-9" cy="-43.1" r="2.4"/><circle cx="-4" cy="-42.9" r="2.2"/><circle cx="-13.7" cy="-38.1" r="2"/><circle cx="-6.8" cy="-56.6" r="2.4"/><circle cx="0.8" cy="-52.5" r="2.4"/><circle cx="6.7" cy="-51.7" r="2.2"/><circle cx="-4.5" cy="-47.8" r="2.4"/><circle cx="-9.7" cy="-46.1" r="2.2"/><circle cx="0.2" cy="-44" r="2.4"/><circle cx="5.3" cy="-44.2" r="2.2"/><circle cx="-4" cy="-40.3" r="2"/><circle cx="7.2" cy="-56.5" r="2.4"/><circle cx="12.8" cy="-50.9" r="2.4"/><circle cx="18.7" cy="-49.7" r="2.2"/><circle cx="6.5" cy="-47.6" r="2.4"/><circle cx="1" cy="-47.7" r="2.2"/><circle cx="10.7" cy="-42.7" r="2.4"/><circle cx="15.7" cy="-41.9" r="2.2"/><circle cx="5.4" cy="-40.1" r="2"/><circle cx="19.1" cy="-53.7" r="2.4"/><circle cx="24.4" cy="-46.5" r="2.4"/><circle cx="29.9" cy="-44" r="2.2"/><circle cx="16.5" cy="-45.1" r="2.4"/><circle cx="11.3" cy="-46.9" r="2.2"/><circle cx="19.6" cy="-39.4" r="2.4"/><circle cx="24" cy="-37" r="2.2"/><circle cx="14" cy="-38" r="2"/><circle cx="30.1" cy="-48.4" r="2.4"/><circle cx="34.2" cy="-39.9" r="2.4"/><circle cx="39.2" cy="-36.4" r="2.2"/><circle cx="27.1" cy="-39.6" r="2.4"/><circle cx="22.6" cy="-42.9" r="2.2"/><circle cx="28.2" cy="-33.8" r="2.4"/><circle cx="32.2" cy="-30.7" r="2.2"/><circle cx="22.3" cy="-33.8" r="2"/><circle cx="41.2" cy="-39.4" r="2.4"/><circle cx="42.7" cy="-30.5" r="2.4"/><circle cx="45.2" cy="-25" r="2.2"/><circle cx="35.2" cy="-32.6" r="2.4"/><circle cx="30.7" cy="-35.7" r="2.2"/><circle cx="35.5" cy="-26" r="2.4"/><circle cx="38.2" cy="-21.8" r="2.2"/><circle cx="29" cy="-28.3" r="2"/><circle cx="49.6" cy="-28.1" r="2.4"/><circle cx="48.3" cy="-20.7" r="2.4"/><circle cx="50.5" cy="-15.1" r="2.2"/><circle cx="42" cy="-23.2" r="2.4"/><circle cx="38.7" cy="-27.5" r="2.2"/><circle cx="40" cy="-18.3" r="2.4"/><circle cx="41.4" cy="-13.6" r="2.2"/><circle cx="35.2" cy="-20" r="2"/><circle cx="54.3" cy="-17.4" r="2.4"/><circle cx="51.6" cy="-9.9" r="2.4"/><circle cx="53.2" cy="-4" r="2.2"/><circle cx="46.1" cy="-13.5" r="2.4"/><circle cx="44.1" cy="-18.6" r="2.2"/><circle cx="43.5" cy="-6.6" r="2.4"/><circle cx="43.6" cy="-1.6" r="2.2"/><circle cx="38.9" cy="-11.4" r="2"/></g><path d="M0 -59L0 -55.5M22.6 -54.5L21.2 -51.3M41.7 -41.7L39.2 -39.2M54.5 -22.6L51.3 -21.2M59 0L55.5 0M54.5 22.6L51.3 21.2M41.7 41.7L39.2 39.2M22.6 54.5L21.2 51.3M0 59L0 55.5M-22.6 54.5L-21.2 51.3M-41.7 41.7L-39.2 39.2M-54.5 22.6L-51.3 21.2M-59 0L-55.5 0M-54.5 -22.6L-51.3 -21.2M-41.7 -41.7L-39.2 -39.2M-22.6 -54.5L-21.2 -51.3M0 -39L-1.5 -44M0 -39L1.5 -44M16.9 -35.1L17.7 -40.3M16.9 -35.1L20.5 -39M30.5 -24.3L33.4 -28.6M30.5 -24.3L35.3 -26.2M38 -8.7L42.5 -11.3M38 -8.7L43.2 -8.3M38 8.7L43.2 8.3M38 8.7L42.5 11.3M30.5 24.3L35.3 26.2M30.5 24.3L33.4 28.6M16.9 35.1L20.5 39M16.9 35.1L17.7 40.3M0 39L1.5 44M0 39L-1.5 44M-16.9 35.1L-17.7 40.3M-16.9 35.1L-20.5 39M-30.5 24.3L-33.4 28.6M-30.5 24.3L-35.3 26.2M-38 8.7L-42.5 11.3M-38 8.7L-43.2 8.3M-38 -8.7L-43.2 -8.3M-38 -8.7L-42.5 -11.3M-30.5 -24.3L-35.3 -26.2M-30.5 -24.3L-33.4 -28.6M-16.9 -35.1L-20.5 -39M-16.9 -35.1L-17.7 -40.3" stroke="#f49300" stroke-width="0.9" fill="none"/></g><circle cx="646.5" cy="899.4" r="35.8" fill="url(#gs)"/><g transform="translate(646.5 899.4)" fill="#78a8f5"><ellipse cx="0" cy="-61.5" rx="3" ry="4.3" transform="rotate(-90 0 -61.5)"/><ellipse cx="23.5" cy="-56.8" rx="3" ry="4.3" transform="rotate(-67.5 23.5 -56.8)"/><ellipse cx="43.5" cy="-43.5" rx="3" ry="4.3" transform="rotate(-45 43.5 -43.5)"/><ellipse cx="56.8" cy="-23.5" rx="3" ry="4.3" transform="rotate(-22.5 56.8 -23.5)"/><ellipse cx="61.5" cy="0" rx="3" ry="4.3" transform="rotate(0 61.5 0)"/><ellipse cx="56.8" cy="23.5" rx="3" ry="4.3" transform="rotate(22.5 56.8 23.5)"/><ellipse cx="43.5" cy="43.5" rx="3" ry="4.3" transform="rotate(45 43.5 43.5)"/><ellipse cx="23.5" cy="56.8" rx="3" ry="4.3" transform="rotate(67.5 23.5 56.8)"/><ellipse cx="0" cy="61.5" rx="3" ry="4.3" transform="rotate(90 0 61.5)"/><ellipse cx="-23.5" cy="56.8" rx="3" ry="4.3" transform="rotate(112.5 -23.5 56.8)"/><ellipse cx="-43.5" cy="43.5" rx="3" ry="4.3" transform="rotate(135 -43.5 43.5)"/><ellipse cx="-56.8" cy="23.5" rx="3" ry="4.3" transform="rotate(157.5 -56.8 23.5)"/><ellipse cx="-61.5" cy="0" rx="3" ry="4.3" transform="rotate(180 -61.5 0)"/><ellipse cx="-56.8" cy="-23.5" rx="3" ry="4.3" transform="rotate(202.5 -56.8 -23.5)"/><ellipse cx="-43.5" cy="-43.5" rx="3" ry="4.3" transform="rotate(225 -43.5 -43.5)"/><ellipse cx="-23.5" cy="-56.8" rx="3" ry="4.3" transform="rotate(247.5 -23.5 -56.8)"/><circle cx="0" cy="-36.8" r="2.6"/><circle cx="16" cy="-33.2" r="2.6"/><circle cx="28.8" cy="-22.9" r="2.6"/><circle cx="35.9" cy="-8.2" r="2.6"/><circle cx="35.9" cy="8.2" r="2.6"/><circle cx="28.8" cy="22.9" r="2.6"/><circle cx="16" cy="33.2" r="2.6"/><circle cx="0" cy="36.8" r="2.6"/><circle cx="-16" cy="33.2" r="2.6"/><circle cx="-28.8" cy="22.9" r="2.6"/><circle cx="-35.9" cy="8.2" r="2.6"/><circle cx="-35.9" cy="-8.2" r="2.6"/><circle cx="-28.8" cy="-22.9" r="2.6"/><circle cx="-16" cy="-33.2" r="2.6"/></g><circle cx="653.2" cy="876.1" r="5.2" fill="url(#pu)"/><circle cx="640.1" cy="880.5" r="5.2" fill="url(#pu)"/><circle cx="634.9" cy="895.8" r="5.2" fill="url(#pu)"/><circle cx="654.2" cy="893.2" r="5.2" fill="url(#pu)"/><circle cx="637.9" cy="909.6" r="5.2" fill="url(#pu)"/><circle cx="672.9" cy="901.6" r="5.2" fill="url(#pu)"/><circle cx="661.9" cy="913.3" r="5.2" fill="url(#pu)"/><circle cx="656.4" cy="923.5" r="5.2" fill="url(#pu)"/><circle cx="643.7" cy="873.2" r="7.2" fill="url(#gn)"/><g fill="none" stroke="#178a25" stroke-width="0.9"><circle cx="643.7" cy="873.2" r="6.7" stroke-dasharray="1.2 1.2" stroke-width="1.1"/><circle cx="643.7" cy="873.2" r="4.8" stroke-dasharray="1 1.6"/><circle cx="643.7" cy="873.2" r="2.6" stroke-dasharray="0.9 1.5"/></g><path d="M650.3 877.8l2.2 0.2" stroke="#333" stroke-width="0.7"/><path d="M652 877.5L655.8 875.1L654 878.8L653.6 877.5Z" fill="#d8182c"/><circle cx="667.1" cy="882.6" r="7.2" fill="url(#gn)"/><g fill="none" stroke="#178a25" stroke-width="0.9"><circle cx="667.1" cy="882.6" r="6.7" stroke-dasharray="1.2 1.2" stroke-width="1.1"/><circle cx="667.1" cy="882.6" r="4.8" stroke-dasharray="1 1.6"/><circle cx="667.1" cy="882.6" r="2.6" stroke-dasharray="0.9 1.5"/></g><path d="M673.7 887.3l2.2 0.2" stroke="#333" stroke-width="0.7"/><path d="M675.3 887L679.1 884.6L677.3 888.3L677 887Z" fill="#d8182c"/><circle cx="623.3" cy="885.6" r="7.2" fill="url(#gn)"/><g fill="none" stroke="#178a25" stroke-width="0.9"><circle cx="623.3" cy="885.6" r="6.7" stroke-dasharray="1.2 1.2" stroke-width="1.1"/><circle cx="623.3" cy="885.6" r="4.8" stroke-dasharray="1 1.6"/><circle cx="623.3" cy="885.6" r="2.6" stroke-dasharray="0.9 1.5"/></g><path d="M629.9 890.2l2.2 0.2" stroke="#333" stroke-width="0.7"/><path d="M631.5 889.9L635.4 887.6L633.5 891.2L633.2 889.9Z" fill="#d8182c"/><circle cx="623.3" cy="906.7" r="7.2" fill="url(#gn)"/><g fill="none" stroke="#178a25" stroke-width="0.9"><circle cx="623.3" cy="906.7" r="6.7" stroke-dasharray="1.2 1.2" stroke-width="1.1"/><circle cx="623.3" cy="906.7" r="4.8" stroke-dasharray="1 1.6"/><circle cx="623.3" cy="906.7" r="2.6" stroke-dasharray="0.9 1.5"/></g><path d="M629.9 911.4l2.2 0.2" stroke="#333" stroke-width="0.7"/><path d="M631.5 911L635.4 908.7L633.5 912.4L633.2 911Z" fill="#d8182c"/><circle cx="644.4" cy="903.8" r="7.2" fill="url(#gn)"/><g fill="none" stroke="#178a25" stroke-width="0.9"><circle cx="644.4" cy="903.8" r="6.7" stroke-dasharray="1.2 1.2" stroke-width="1.1"/><circle cx="644.4" cy="903.8" r="4.8" stroke-dasharray="1 1.6"/><circle cx="644.4" cy="903.8" r="2.6" stroke-dasharray="0.9 1.5"/></g><path d="M651.1 908.4l2.2 0.2" stroke="#333" stroke-width="0.7"/><path d="M652.7 908.1L656.5 905.8L654.7 909.4L654.4 908.1Z" fill="#d8182c"/><circle cx="669.2" cy="905.3" r="7.2" fill="url(#gn)"/><g fill="none" stroke="#178a25" stroke-width="0.9"><circle cx="669.2" cy="905.3" r="6.7" stroke-dasharray="1.2 1.2" stroke-width="1.1"/><circle cx="669.2" cy="905.3" r="4.8" stroke-dasharray="1 1.6"/><circle cx="669.2" cy="905.3" r="2.6" stroke-dasharray="0.9 1.5"/></g><path d="M675.9 909.9l2.2 0.2" stroke="#333" stroke-width="0.7"/><path d="M677.5 909.6L681.3 907.3L679.5 910.9L679.2 909.6Z" fill="#d8182c"/><circle cx="641.8" cy="919.1" r="7.2" fill="url(#gn)"/><g fill="none" stroke="#178a25" stroke-width="0.9"><circle cx="641.8" cy="919.1" r="6.7" stroke-dasharray="1.2 1.2" stroke-width="1.1"/><circle cx="641.8" cy="919.1" r="4.8" stroke-dasharray="1 1.6"/><circle cx="641.8" cy="919.1" r="2.6" stroke-dasharray="0.9 1.5"/></g><path d="M648.4 923.8l2.2 0.2" stroke="#333" stroke-width="0.7"/><path d="M650.1 923.4L653.9 921.1L652.1 924.8L651.7 923.4Z" fill="#d8182c"/><circle cx="798.4" cy="872" r="7.6" fill="url(#pu)"/><text transform="translate(800.2 899) scale(1.11 1)" font-size="14.5" text-anchor="middle">Gastrodin</text><circle cx="798.8" cy="931.6" r="8.7" fill="url(#gn)"/><g fill="none" stroke="#178a25" stroke-width="0.9"><circle cx="798.8" cy="931.6" r="8.2" stroke-dasharray="1.2 1.2" stroke-width="1.1"/><circle cx="798.8" cy="931.6" r="5.7" stroke-dasharray="1 1.6"/><circle cx="798.8" cy="931.6" r="3.1" stroke-dasharray="0.9 1.5"/></g><path d="M806.8 937.2l2.6 0.3" stroke="#333" stroke-width="0.7"/><path d="M808.8 936.8L813.4 934L811.2 938.4L810.8 936.8Z" fill="#d8182c"/><text transform="translate(800.6 958.7) scale(1.11 1)" font-size="14.5" text-anchor="middle">AV-ICG-NPs</text><path d="M1071.2 858L1076.3 843.1" stroke="#222" stroke-width="0.9"/><path d="M1009.1 898.3L993.9 896.9" stroke="#222" stroke-width="0.9"/><path d="M1102.8 900.1L1117.2 899.3" stroke="#222" stroke-width="0.9"/><path d="M1043.4 947.7L1040.1 959.5" stroke="#222" stroke-width="0.9"/><path d="M1024 865.7Q1022.5 855.2 1015.7 857Q1008.9 858.9 1011.9 850.3M1091.1 868.7Q1099.4 868.7 1096.9 861.2Q1097.2 854.4 1104.7 859.4M1011.2 924.8Q1005.2 921.5 1004.4 929.1Q1002.1 935.8 996.4 930.6M1097.2 929.8Q1097.9 936.6 1103.9 933.9Q1111.5 932.1 1107.4 941.9" fill="none" stroke="#e6101c" stroke-width="1.3" stroke-linecap="round"/><g transform="translate(1055.9 902.4)"><circle r="39" fill="none" stroke="#1bab6c" stroke-width="6.8"/><use href="#po10" transform="rotate(0)"/><use href="#po10" transform="rotate(9)"/><use href="#po10" transform="rotate(18)"/><use href="#po10" transform="rotate(27)"/><use href="#po10" transform="rotate(36)"/><use href="#po10" transform="rotate(45)"/><use href="#po10" transform="rotate(54)"/><use href="#po10" transform="rotate(63)"/><use href="#po10" transform="rotate(72)"/><use href="#po10" transform="rotate(81)"/><use href="#po10" transform="rotate(90)"/><use href="#po10" transform="rotate(99)"/><use href="#po10" transform="rotate(108)"/><use href="#po10" transform="rotate(117)"/><use href="#po10" transform="rotate(126)"/><use href="#po10" transform="rotate(135)"/><use href="#po10" transform="rotate(144)"/><use href="#po10" transform="rotate(153)"/><use href="#po10" transform="rotate(162)"/><use href="#po10" transform="rotate(171)"/><use href="#po10" transform="rotate(180)"/><use href="#po10" transform="rotate(189)"/><use href="#po10" transform="rotate(198)"/><use href="#po10" transform="rotate(207)"/><use href="#po10" transform="rotate(216)"/><use href="#po10" transform="rotate(225)"/><use href="#po10" transform="rotate(234)"/><use href="#po10" transform="rotate(243)"/><use href="#po10" transform="rotate(252)"/><use href="#po10" transform="rotate(261)"/><use href="#po10" transform="rotate(270)"/><use href="#po10" transform="rotate(279)"/><use href="#po10" transform="rotate(288)"/><use href="#po10" transform="rotate(297)"/><use href="#po10" transform="rotate(306)"/><use href="#po10" transform="rotate(315)"/><use href="#po10" transform="rotate(324)"/><use href="#po10" transform="rotate(333)"/><use href="#po10" transform="rotate(342)"/><use href="#po10" transform="rotate(351)"/><use href="#pi10" transform="rotate(0)"/><use href="#pi10" transform="rotate(10)"/><use href="#pi10" transform="rotate(20)"/><use href="#pi10" transform="rotate(30)"/><use href="#pi10" transform="rotate(40)"/><use href="#pi10" transform="rotate(50)"/><use href="#pi10" transform="rotate(60)"/><use href="#pi10" transform="rotate(70)"/><use href="#pi10" transform="rotate(80)"/><use href="#pi10" transform="rotate(90)"/><use href="#pi10" transform="rotate(100)"/><use href="#pi10" transform="rotate(110)"/><use href="#pi10" transform="rotate(120)"/><use href="#pi10" transform="rotate(130)"/><use href="#pi10" transform="rotate(140)"/><use href="#pi10" transform="rotate(150)"/><use href="#pi10" transform="rotate(160)"/><use href="#pi10" transform="rotate(170)"/><use href="#pi10" transform="rotate(180)"/><use href="#pi10" transform="rotate(190)"/><use href="#pi10" transform="rotate(200)"/><use href="#pi10" transform="rotate(210)"/><use href="#pi10" transform="rotate(220)"/><use href="#pi10" transform="rotate(230)"/><use href="#pi10" transform="rotate(240)"/><use href="#pi10" transform="rotate(250)"/><use href="#pi10" transform="rotate(260)"/><use href="#pi10" transform="rotate(270)"/><use href="#pi10" transform="rotate(280)"/><use href="#pi10" transform="rotate(290)"/><use href="#pi10" transform="rotate(300)"/><use href="#pi10" transform="rotate(310)"/><use href="#pi10" transform="rotate(320)"/><use href="#pi10" transform="rotate(330)"/><use href="#pi10" transform="rotate(340)"/><use href="#pi10" transform="rotate(350)"/></g><circle cx="1055.9" cy="902.4" r="27" fill="url(#gs)"/><g transform="translate(1076.3 843.1) rotate(-20)"><circle r="8.2" fill="#f6ee12" stroke="#2a2a18" stroke-width="0.7"/><path d="M-1.1 -1.9L-4 -6.9A8 8 0 0 1 4 -6.9L1.1 -1.9A2.2 2.2 0 0 0 -1.1 -1.9Z" fill="#0c0c0c"/><path d="M2.2 0L8 0A8 8 0 0 1 4 6.9L1.1 1.9A2.2 2.2 0 0 0 2.2 0Z" fill="#0c0c0c"/><path d="M-1.1 1.9L-4 6.9A8 8 0 0 1 -8 0L-2.2 0A2.2 2.2 0 0 0 -1.1 1.9Z" fill="#0c0c0c"/><circle r="1.2" fill="#0c0c0c"/></g><g transform="translate(993.9 896.9) rotate(0)"><circle r="8.2" fill="#f6ee12" stroke="#2a2a18" stroke-width="0.7"/><path d="M-1.1 -1.9L-4 -6.9A8 8 0 0 1 4 -6.9L1.1 -1.9A2.2 2.2 0 0 0 -1.1 -1.9Z" fill="#0c0c0c"/><path d="M2.2 0L8 0A8 8 0 0 1 4 6.9L1.1 1.9A2.2 2.2 0 0 0 2.2 0Z" fill="#0c0c0c"/><path d="M-1.1 1.9L-4 6.9A8 8 0 0 1 -8 0L-2.2 0A2.2 2.2 0 0 0 -1.1 1.9Z" fill="#0c0c0c"/><circle r="1.2" fill="#0c0c0c"/></g><g transform="translate(1117.2 899.3) rotate(-30)"><circle r="8.2" fill="#f6ee12" stroke="#2a2a18" stroke-width="0.7"/><path d="M-1.1 -1.9L-4 -6.9A8 8 0 0 1 4 -6.9L1.1 -1.9A2.2 2.2 0 0 0 -1.1 -1.9Z" fill="#0c0c0c"/><path d="M2.2 0L8 0A8 8 0 0 1 4 6.9L1.1 1.9A2.2 2.2 0 0 0 2.2 0Z" fill="#0c0c0c"/><path d="M-1.1 1.9L-4 6.9A8 8 0 0 1 -8 0L-2.2 0A2.2 2.2 0 0 0 -1.1 1.9Z" fill="#0c0c0c"/><circle r="1.2" fill="#0c0c0c"/></g><g transform="translate(1040.1 959.5) rotate(30)"><circle r="8.2" fill="#f6ee12" stroke="#2a2a18" stroke-width="0.7"/><path d="M-1.1 -1.9L-4 -6.9A8 8 0 0 1 4 -6.9L1.1 -1.9A2.2 2.2 0 0 0 -1.1 -1.9Z" fill="#0c0c0c"/><path d="M2.2 0L8 0A8 8 0 0 1 4 6.9L1.1 1.9A2.2 2.2 0 0 0 2.2 0Z" fill="#0c0c0c"/><path d="M-1.1 1.9L-4 6.9A8 8 0 0 1 -8 0L-2.2 0A2.2 2.2 0 0 0 -1.1 1.9Z" fill="#0c0c0c"/><circle r="1.2" fill="#0c0c0c"/></g><path d="M1182.1 852.6Q1183.4 850.2 1185.2 850.3Q1187.5 852.5 1189.5 854.3Q1191.3 855 1193 854.2Q1195.5 850 1198.5 848.2L1201.6 848.1Q1202.8 851 1202.8 854.7" fill="none" stroke="#e6101c" stroke-width="1.2" stroke-linecap="round" stroke-linejoin="round"/><text transform="translate(1195.2 887.8) scale(1.11 1)" font-size="14.5" text-anchor="middle">Avidin</text><path d="M1192 938.6L1201 940" stroke="#444" stroke-width="0.8"/><path d="M1163.9 935.1L1167.3 943.3L1176 935.1L1180 944.9L1191.9 938.6" stroke="#1bab6c" stroke-width="2.4" fill="none" stroke-linejoin="round"/><circle cx="1163.9" cy="935.1" r="3.8" fill="#1bab6c"/><circle cx="1167.3" cy="943.3" r="3.8" fill="#1bab6c"/><circle cx="1176" cy="935.1" r="3.8" fill="#1bab6c"/><circle cx="1180" cy="944.9" r="3.8" fill="#1bab6c"/><circle cx="1191.9" cy="938.6" r="3.8" fill="#1bab6c"/><g transform="translate(1211.2 940.2) rotate(30)"><circle r="11" fill="#f6ee12" stroke="#2a2a18" stroke-width="0.7"/><path d="M-1.5 -2.6L-5.3 -9.2A10.7 10.7 0 0 1 5.3 -9.2L1.5 -2.6A3 3 0 0 0 -1.5 -2.6Z" fill="#0c0c0c"/><path d="M3 0L10.7 0A10.7 10.7 0 0 1 5.3 9.2L1.5 2.6A3 3 0 0 0 3 0Z" fill="#0c0c0c"/><path d="M-1.5 2.6L-5.3 9.2A10.7 10.7 0 0 1 -10.7 0L-3 0A3 3 0 0 0 -1.5 2.6Z" fill="#0c0c0c"/><circle r="1.6" fill="#0c0c0c"/></g><text transform="translate(1102.2 979.2) scale(1.115 1)" font-size="14.5"><tspan font-size="8.6" dy="-5.4">111</tspan><tspan dy="5.4">In-labeled PBCA</tspan></text></svg></body></html>
